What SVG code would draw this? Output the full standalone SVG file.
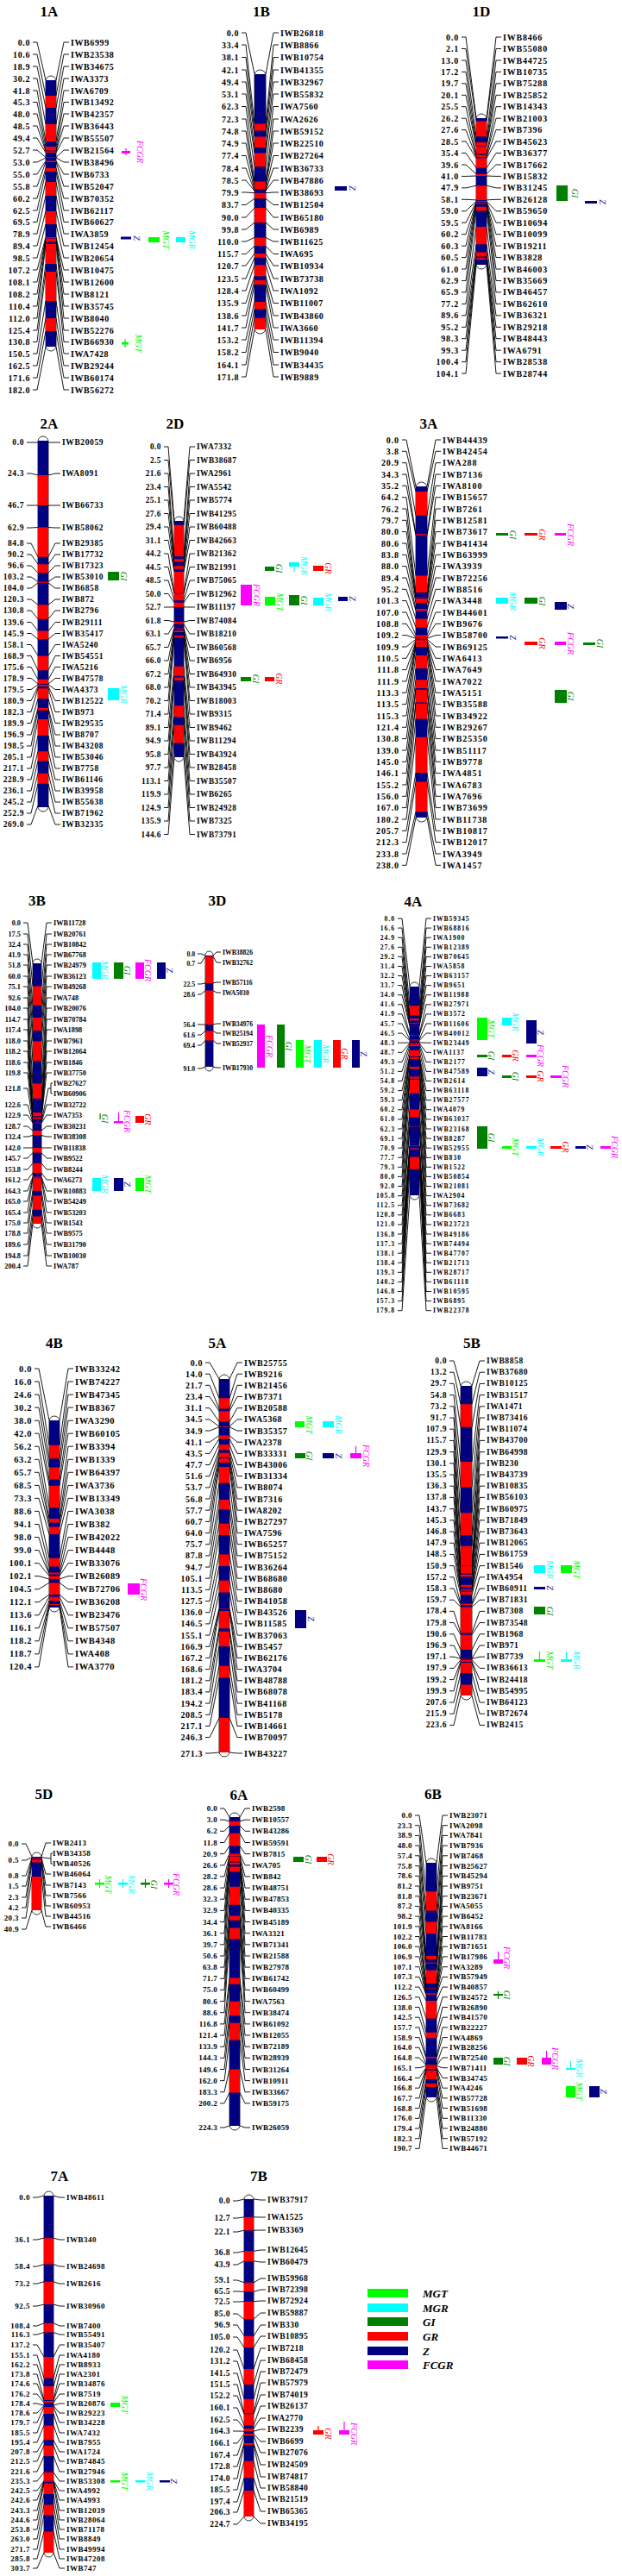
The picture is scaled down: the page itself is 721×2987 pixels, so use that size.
<svg xmlns="http://www.w3.org/2000/svg" width="721" height="2987" viewBox="0 0 721 2987">
<style>
text{font-family:"Liberation Serif","Times New Roman",serif;font-weight:bold;fill:#000;dominant-baseline:central}
.n{text-anchor:end}
.t{font-size:17px;text-anchor:middle;letter-spacing:0}
.q{font-style:italic;font-weight:normal;font-size:10px;text-anchor:middle;letter-spacing:0}
.cap{fill:#fff;stroke:#000;stroke-width:0.8}
.nv{fill:#000080}
.rd{fill:#f00}
.MGT{fill:#0f0}.MGR{fill:#0ff}.GI{fill:#008000}.GR{fill:#f00}.Z{fill:#000080}.FCGR{fill:#f0f}
.lg{font-size:13px;font-style:italic;letter-spacing:0}
</style>
<rect width="721" height="2987" fill="#fff"/>
<g id="connectors" fill="none" stroke="#000" stroke-width="0.9">
<path id="c1A" d="M38 49h5L53 93M38 63h5L53 111M38 77h5L53 125M38 91h5L53 144M38 105h5L53 164M38 118.5h5L53 170M38 132h5L53 174.5M38 146h5L53 175.5M38 160h5L53 177M38 174h5L53 182.5M38 188h5L53 183M38 202h5L53 186.5M38 216h5L53 188M38 230h5L53 195M38 244h5L53 199M38 257.5h5L53 211M38 271h5L53 227M38 285h5L53 245M38 299h5L53 260M38 313h5L53 275M38 327h5L53 276.5M38 341h5L53 277M38 355h5L53 280.5M38 369h5L53 283M38 383h5L53 306M38 396.5h5L53 315M38 410h5L53 349M38 424h5L53 369M38 438h5L53 384M38 452h5L53 402M65 93L74 49h6M65 111L74 63h6M65 125L74 77h6M65 144L74 91h6M65 164L74 105h6M65 170L74 118.5h6M65 174.5L74 132h6M65 175.5L74 146h6M65 177L74 160h6M65 182.5L74 174h6M65 183L74 188h6M65 186.5L74 202h6M65 188L74 216h6M65 195L74 230h6M65 199L74 244h6M65 211L74 257.5h6M65 227L74 271h6M65 245L74 285h6M65 260L74 299h6M65 275L74 313h6M65 276.5L74 327h6M65 277L74 341h6M65 280.5L74 355h6M65 283L74 369h6M65 306L74 383h6M65 315L74 396.5h6M65 349L74 410h6M65 369L74 424h6M65 384L74 438h6M65 402L74 452h6"/>
<path id="c1B" d="M280 38h5L295 86M280 52h5L295 143.5M280 66.5h5L295 151.6M280 81h5L295 158.5M280 95h5L295 171M280 109h5L295 177.5M280 123.5h5L295 193.3M280 138h5L295 210.6M280 152h5L295 214.9M280 166h5L295 215M280 180.5h5L295 219.4M280 195h5L295 221.1M280 209h5L295 221.3M280 223h5L295 223.7M280 237.5h5L295 230.2M280 252h5L295 241.1M280 266h5L295 258M280 280h5L295 275.5M280 294.5h5L295 285.3M280 308h5L295 294M280 323h5L295 298.8M280 337h5L295 307.2M280 351.5h5L295 320.2M280 366h5L295 324.8M280 380h5L295 330.1M280 394h5L295 350M280 408.5h5L295 358.6M280 423h5L295 368.7M280 437h5L295 382M308 86L317 38h6M308 143.5L317 52h6M308 151.6L317 66.5h6M308 158.5L317 81h6M308 171L317 95h6M308 177.5L317 109h6M308 193.3L317 123.5h6M308 210.6L317 138h6M308 214.9L317 152h6M308 215L317 166h6M308 219.4L317 180.5h6M308 221.1L317 195h6M308 221.3L317 209h6M308 223.7L317 223h6M308 230.2L317 237.5h6M308 241.1L317 252h6M308 258L317 266h6M308 275.5L317 280h6M308 285.3L317 294.5h6M308 294L317 308h6M308 298.8L317 323h6M308 307.2L317 337h6M308 320.2L317 351.5h6M308 324.8L317 366h6M308 330.1L317 380h6M308 350L317 394h6M308 358.6L317 408.5h6M308 368.7L317 423h6M308 382L317 437h6"/>
<path id="c1D" d="M535 43h5L552 137M535 56.5h5L552 140.4M535 70h5L552 158.2M535 83.4h5L552 165.1M535 96.8h5L552 169.2M535 110.3h5L552 169.8M535 123.7h5L552 178.6M535 137.2h5L552 179.8M535 150.6h5L552 182.1M535 164h5L552 183.5M535 177.5h5L552 194.8M535 191h5L552 201.7M535 204.4h5L552 204M535 217.9h5L552 215.2M535 231.3h5L552 231.9M535 244.8h5L552 233.3M535 258.2h5L552 234.2M535 271.7h5L552 235.3M535 285.1h5L552 235.5M535 298.6h5L552 235.8M535 312h5L552 236.6M535 325.5h5L552 239.7M535 338.9h5L552 244.6M535 352.4h5L552 263.1M535 365.8h5L552 283.3M535 379.3h5L552 292.5M535 392.7h5L552 297.5M535 406.2h5L552 299.2M535 419.6h5L552 301M535 433h5L552 307M564 137L575 43h6M564 140.4L575 56.5h6M564 158.2L575 70h6M564 165.1L575 83.4h6M564 169.2L575 96.8h6M564 169.8L575 110.3h6M564 178.6L575 123.7h6M564 179.8L575 137.2h6M564 182.1L575 150.6h6M564 183.5L575 164h6M564 194.8L575 177.5h6M564 201.7L575 191h6M564 204L575 204.4h6M564 215.2L575 217.9h6M564 231.9L575 231.3h6M564 233.3L575 244.8h6M564 234.2L575 258.2h6M564 235.3L575 271.7h6M564 235.5L575 285.1h6M564 235.8L575 298.6h6M564 236.6L575 312h6M564 239.7L575 325.5h6M564 244.6L575 338.9h6M564 263.1L575 352.4h6M564 283.3L575 365.8h6M564 292.5L575 379.3h6M564 297.5L575 392.7h6M564 299.2L575 406.2h6M564 301L575 419.6h6M564 307L575 433h6"/>
<path id="c2A" d="M31 513h5L44 513M31 549h5L44 551M31 586h5L44 586M31 612h5L44 611.5M31 630h5L44 645.7M31 643h5L44 654.2M31 656h5L44 664.2M31 669h5L44 674.5M31 682h5L44 675.8M31 695h5L44 701.3M31 708h5L44 717.7M31 721.5h5L44 731.5M31 734.5h5L44 741.3M31 747.5h5L44 760.4M31 760.5h5L44 777.3M31 773.5h5L44 787.8M31 786.5h5L44 793M31 799.5h5L44 793.9M31 812.5h5L44 796.1M31 825.5h5L44 798.3M31 838.5h5L44 810.2M31 852h5L44 821.1M31 865h5L44 823.7M31 878h5L44 834M31 891h5L44 852.8M31 904h5L44 871.2M31 917h5L44 882.5M31 930h5L44 896.7M31 943h5L44 908.8M31 956h5L44 934M56 513L64 513h6M56 551L64 549h6M56 586L64 586h6M56 611.5L64 612h6M56 645.7L64 630h6M56 654.2L64 643h6M56 664.2L64 656h6M56 674.5L64 669h6M56 675.8L64 682h6M56 701.3L64 695h6M56 717.7L64 708h6M56 731.5L64 721.5h6M56 741.3L64 734.5h6M56 760.4L64 747.5h6M56 777.3L64 760.5h6M56 787.8L64 773.5h6M56 793L64 786.5h6M56 793.9L64 799.5h6M56 796.1L64 812.5h6M56 798.3L64 825.5h6M56 810.2L64 838.5h6M56 821.1L64 852h6M56 823.7L64 865h6M56 834L64 878h6M56 852.8L64 891h6M56 871.2L64 904h6M56 882.5L64 917h6M56 896.7L64 930h6M56 908.8L64 943h6M56 934L64 956h6"/>
<path id="c2D" d="M190 518h5L202 604M190 533.5h5L202 608.7M190 549h5L202 644.9M190 564.5h5L202 648.3M190 580h5L202 651.6M190 595.5h5L202 656.3M190 611h5L202 659.7M190 626.5h5L202 662.9M190 642h5L202 687.8M190 657.5h5L202 688.3M190 673h5L202 695.9M190 688.5h5L202 698.8M190 704h5L202 703.9M190 719.5h5L202 721.1M190 735h5L202 723.6M190 750.5h5L202 728.5M190 766h5L202 729.1M190 781.5h5L202 731.3M190 797h5L202 732.9M190 812.5h5L202 737M190 828h5L202 739.3M190 843.5h5L202 772.8M190 859h5L202 783.8M190 874.5h5L202 785.5M190 890h5L202 789.1M190 905.5h5L202 818.3M190 921h5L202 831.2M190 936.5h5L202 840.7M190 952h5L202 861.5M190 967.5h5L202 878M213 604L220 518h6M213 608.7L220 533.5h6M213 644.9L220 549h6M213 648.3L220 564.5h6M213 651.6L220 580h6M213 656.3L220 595.5h6M213 659.7L220 611h6M213 662.9L220 626.5h6M213 687.8L220 642h6M213 688.3L220 657.5h6M213 695.9L220 673h6M213 698.8L220 688.5h6M213 703.9L220 704h6M213 721.1L220 719.5h6M213 723.6L220 735h6M213 728.5L220 750.5h6M213 729.1L220 766h6M213 731.3L220 781.5h6M213 732.9L220 797h6M213 737L220 812.5h6M213 739.3L220 828h6M213 772.8L220 843.5h6M213 783.8L220 859h6M213 785.5L220 874.5h6M213 789.1L220 890h6M213 818.3L220 905.5h6M213 831.2L220 921h6M213 840.7L220 936.5h6M213 861.5L220 952h6M213 878L220 967.5h6"/>
<path id="c3A" d="M466 510h5L482 564M466 523.3h5L482 570.1M466 536.7h5L482 597.7M466 550h5L482 619.3M466 563.3h5L482 620.8M466 576.7h5L482 667.6M466 590h5L482 686.9M466 603.3h5L482 692.6M466 616.6h5L482 693.1M466 630h5L482 694M466 643.3h5L482 699.2M466 656.6h5L482 706M466 670h5L482 708.2M466 683.3h5L482 717.6M466 696.6h5L482 727.4M466 710h5L482 736.6M466 723.3h5L482 739.5M466 736.6h5L482 740.2M466 750h5L482 741.3M466 763.3h5L482 742.3M466 776.6h5L482 744.4M466 790h5L482 744.5M466 803.3h5L482 746.8M466 816.6h5L482 747.1M466 830h5L482 750M466 843.3h5L482 759.9M466 856.6h5L482 775M466 870h5L482 788.3M466 883.3h5L482 798M466 896.6h5L482 799.7M466 910h5L482 814.4M466 923.3h5L482 815.7M466 936.6h5L482 833.4M466 950h5L482 854.7M466 963.3h5L482 895.9M466 976.6h5L482 906.5M466 990h5L482 941.2M466 1003.3h5L482 948M495 564L505 510h6M495 570.1L505 523.3h6M495 597.7L505 536.7h6M495 619.3L505 550h6M495 620.8L505 563.3h6M495 667.6L505 576.7h6M495 686.9L505 590h6M495 692.6L505 603.3h6M495 693.1L505 616.6h6M495 694L505 630h6M495 699.2L505 643.3h6M495 706L505 656.6h6M495 708.2L505 670h6M495 717.6L505 683.3h6M495 727.4L505 696.6h6M495 736.6L505 710h6M495 739.5L505 723.3h6M495 740.2L505 736.6h6M495 741.3L505 750h6M495 742.3L505 763.3h6M495 744.4L505 776.6h6M495 744.5L505 790h6M495 746.8L505 803.3h6M495 747.1L505 816.6h6M495 750L505 830h6M495 759.9L505 843.3h6M495 775L505 856.6h6M495 788.3L505 870h6M495 798L505 883.3h6M495 799.7L505 896.6h6M495 814.4L505 910h6M495 815.7L505 923.3h6M495 833.4L505 936.6h6M495 854.7L505 950h6M495 895.9L505 963.3h6M495 906.5L505 976.6h6M495 941.2L505 990h6M495 948L505 1003.3h6"/>
<path id="c3B" d="M27 1070h5L38 1117M27 1083h5L38 1143.4M27 1095h5L38 1165.8M27 1107h5L38 1180.1M27 1119h5L38 1195.1M27 1132h5L38 1207.4M27 1144h5L38 1230.2M27 1157h5L38 1256.5M27 1169h5L38 1273.7M27 1182h5L38 1289.9M27 1194h5L38 1293.9M27 1207h5L38 1294.8M27 1219h5L38 1295.1M27 1232h5L38 1295.7M27 1244h5L38 1297.5M27 1262h5L38 1300.6M27 1281h5L38 1301.8M27 1293h5L38 1302.2M27 1306h5L38 1311M27 1318h5L38 1316.5M27 1331h5L38 1331M27 1343h5L38 1336.6M27 1356h5L38 1348.8M27 1368h5L38 1359.9M27 1381h5L38 1364.6M27 1393h5L38 1365.7M27 1406h5L38 1366.3M27 1418h5L38 1380.7M27 1430h5L38 1386.5M27 1443h5L38 1402.7M27 1456h5L38 1410.6M27 1468h5L38 1419M48 1117L54 1070h6M48 1143.4L54 1083h6M48 1165.8L54 1095h6M48 1180.1L54 1107h6M48 1195.1L54 1119h6M48 1207.4L54 1132h6M48 1230.2L54 1144h6M48 1256.5L54 1157h6M48 1273.7L54 1169h6M48 1289.9L54 1182h6M48 1293.9L54 1194h6M48 1294.8L54 1207h6M48 1295.1L54 1219h6M48 1295.7L54 1232h6M48 1297.5L54 1244h6M48 1300.6L56 1262h3M59 1256v12M59 1256h2M59 1268h2M48 1301.8L54 1281h6M48 1302.2L54 1293h6M48 1311L54 1306h6M48 1316.5L54 1318h6M48 1331L54 1331h6M48 1336.6L54 1343h6M48 1348.8L54 1356h6M48 1359.9L54 1368h6M48 1364.6L54 1381h6M48 1365.7L54 1393h6M48 1366.3L54 1406h6M48 1380.7L54 1418h6M48 1386.5L54 1430h6M48 1402.7L54 1443h6M48 1410.6L54 1456h6M48 1419L54 1468h6"/>
<path id="c3D" d="M229 1106h4L238 1108M229 1117h4L238 1109M229 1141h4L238 1139.9M229 1153h4L238 1148.6M229 1188h4L238 1188M229 1200h4L238 1195.3M229 1212h4L238 1206.4M229 1239h4L238 1237M247 1108L251 1104h5M247 1109L251 1116h5M247 1139.9L251 1139h5M247 1148.6L251 1151h5M247 1188L251 1187h5M247 1195.3L251 1198h5M247 1206.4L251 1210h5M247 1237L251 1238h5"/>
<path id="c4A" d="M461 1065h5L475 1144M461 1076.1h5L475 1166.3M461 1087.2h5L475 1177.5M461 1098.3h5L475 1181.1M461 1109.4h5L475 1183.3M461 1120.5h5L475 1186.3M461 1131.5h5L475 1187.3M461 1142.6h5L475 1189.4M461 1153.7h5L475 1189.8M461 1164.8h5L475 1200M461 1175.9h5L475 1200.4M461 1187h5L475 1205.5M461 1198.1h5L475 1206.6M461 1209.2h5L475 1209M461 1220.3h5L475 1209.6M461 1231.4h5L475 1210.4M461 1242.4h5L475 1212.9M461 1253.5h5L475 1217.8M461 1264.6h5L475 1223.7M461 1275.7h5L475 1223.8M461 1286.8h5L475 1225M461 1297.9h5L475 1226.1M461 1309h5L475 1227.9M461 1320.1h5L475 1237M461 1331.2h5L475 1239.4M461 1342.3h5L475 1248.6M461 1353.3h5L475 1250.7M461 1364.4h5L475 1251.7M461 1375.5h5L475 1267.8M461 1386.6h5L475 1286.4M461 1397.7h5L475 1295.4M461 1408.8h5L475 1306.6M461 1419.9h5L475 1306.9M461 1431h5L475 1328.1M461 1442.1h5L475 1328.8M461 1453.2h5L475 1329.9M461 1464.2h5L475 1330.3M461 1475.3h5L475 1331.5M461 1486.4h5L475 1332.7M461 1497.5h5L475 1341.6M461 1508.6h5L475 1355.7M461 1519.7h5L475 1386M486 1144L494 1065h6M486 1166.3L494 1076.1h6M486 1177.5L494 1087.2h6M486 1181.1L494 1098.3h6M486 1183.3L494 1109.4h6M486 1186.3L494 1120.5h6M486 1187.3L494 1131.5h6M486 1189.4L494 1142.6h6M486 1189.8L494 1153.7h6M486 1200L494 1164.8h6M486 1200.4L494 1175.9h6M486 1205.5L494 1187h6M486 1206.6L494 1198.1h6M486 1209L494 1209.2h6M486 1209.6L494 1220.3h6M486 1210.4L494 1231.4h6M486 1212.9L494 1242.4h6M486 1217.8L494 1253.5h6M486 1223.7L494 1264.6h6M486 1223.8L494 1275.7h6M486 1225L494 1286.8h6M486 1226.1L494 1297.9h6M486 1227.9L494 1309h6M486 1237L494 1320.1h6M486 1239.4L494 1331.2h6M486 1248.6L494 1342.3h6M486 1250.7L494 1353.3h6M486 1251.7L494 1364.4h6M486 1267.8L494 1375.5h6M486 1286.4L494 1386.6h6M486 1295.4L494 1397.7h6M486 1306.6L494 1408.8h6M486 1306.9L494 1419.9h6M486 1328.1L494 1431h6M486 1328.8L494 1442.1h6M486 1329.9L494 1453.2h6M486 1330.3L494 1464.2h6M486 1331.5L494 1475.3h6M486 1332.7L494 1486.4h6M486 1341.6L494 1497.5h6M486 1355.7L494 1508.6h6M486 1386L494 1519.7h6"/>
<path id="c4B" d="M40 1587h5L57 1647M40 1602h5L57 1675.8M40 1617.1h5L57 1691.3M40 1632.1h5L57 1701.4M40 1647.2h5L57 1715.5M40 1662.2h5L57 1722.7M40 1677.2h5L57 1748.3M40 1692.3h5L57 1760.9M40 1707.3h5L57 1765.4M40 1722.4h5L57 1770.4M40 1737.4h5L57 1779.1M40 1752.4h5L57 1806.7M40 1767.5h5L57 1816.6M40 1782.5h5L57 1823.6M40 1797.6h5L57 1825.4M40 1812.6h5L57 1827.4M40 1827.6h5L57 1831M40 1842.7h5L57 1835.3M40 1857.7h5L57 1849M40 1872.8h5L57 1851.7M40 1887.8h5L57 1856.2M40 1902.8h5L57 1860M40 1917.9h5L57 1860.9M40 1932.9h5L57 1864M69 1647L79 1587h6M69 1675.8L79 1602h6M69 1691.3L79 1617.1h6M69 1701.4L79 1632.1h6M69 1715.5L79 1647.2h6M69 1722.7L79 1662.2h6M69 1748.3L79 1677.2h6M69 1760.9L79 1692.3h6M69 1765.4L79 1707.3h6M69 1770.4L79 1722.4h6M69 1779.1L79 1737.4h6M69 1806.7L79 1752.4h6M69 1816.6L79 1767.5h6M69 1823.6L79 1782.5h6M69 1825.4L79 1797.6h6M69 1827.4L79 1812.6h6M69 1831L79 1827.6h6M69 1835.3L79 1842.7h6M69 1849L79 1857.7h6M69 1851.7L79 1872.8h6M69 1856.2L79 1887.8h6M69 1860L79 1902.8h6M69 1860.9L79 1917.9h6M69 1864L79 1932.9h6"/>
<path id="c5A" d="M238 1580h5L254 1599M238 1593.2h5L254 1621.3M238 1606.3h5L254 1633.6M238 1619.5h5L254 1636.3M238 1632.7h5L254 1648.6M238 1645.9h5L254 1654.1M238 1659h5L254 1654.7M238 1672.2h5L254 1664.6M238 1685.4h5L254 1668.4M238 1698.5h5L254 1675.1M238 1711.7h5L254 1681.4M238 1724.9h5L254 1684.7M238 1738h5L254 1689.7M238 1751.2h5L254 1691.1M238 1764.4h5L254 1695.9M238 1777.6h5L254 1701.1M238 1790.7h5L254 1719.8M238 1803.9h5L254 1739.1M238 1817.1h5L254 1750.2M238 1830.2h5L254 1766.7M238 1843.4h5L254 1780.1M238 1856.6h5L254 1802.5M238 1869.7h5L254 1816.1M238 1882.9h5L254 1832.8M238 1896.1h5L254 1846.5M238 1909.3h5L254 1865.4M238 1922.4h5L254 1865.9M238 1935.6h5L254 1868.1M238 1948.8h5L254 1888.2M238 1961.9h5L254 1891.7M238 1975.1h5L254 1908.9M238 1988.3h5L254 1931.8M238 2001.4h5L254 1945.5M238 2014.6h5L254 1992.1M238 2033h5L254 2032M266 1599L275 1580h6M266 1621.3L275 1593.2h6M266 1633.6L275 1606.3h6M266 1636.3L275 1619.5h6M266 1648.6L275 1632.7h6M266 1654.1L275 1645.9h6M266 1654.7L275 1659h6M266 1664.6L275 1672.2h6M266 1668.4L275 1685.4h6M266 1675.1L275 1698.5h6M266 1681.4L275 1711.7h6M266 1684.7L275 1724.9h6M266 1689.7L275 1738h6M266 1691.1L275 1751.2h6M266 1695.9L275 1764.4h6M266 1701.1L275 1777.6h6M266 1719.8L275 1790.7h6M266 1739.1L275 1803.9h6M266 1750.2L275 1817.1h6M266 1766.7L275 1830.2h6M266 1780.1L275 1843.4h6M266 1802.5L275 1856.6h6M266 1816.1L275 1869.7h6M266 1832.8L275 1882.9h6M266 1846.5L275 1896.1h6M266 1865.4L275 1909.3h6M266 1865.9L275 1922.4h6M266 1868.1L275 1935.6h6M266 1888.2L275 1948.8h6M266 1891.7L275 1961.9h6M266 1908.9L275 1975.1h6M266 1931.8L275 1988.3h6M266 1945.5L275 2001.4h6M266 1992.1L275 2014.6h6M266 2032L275 2033h6"/>
<path id="c5B" d="M521 1578h5L534 1607M521 1591.2h5L534 1628.2M521 1604.4h5L534 1654.7M521 1617.6h5L534 1695M521 1630.8h5L534 1724.5M521 1644h5L534 1754.2M521 1657.2h5L534 1780.2M521 1670.4h5L534 1792.8M521 1683.6h5L534 1815.6M521 1696.8h5L534 1815.9M521 1710h5L534 1824.5M521 1723.2h5L534 1825.8M521 1736.4h5L534 1828.2M521 1749.6h5L534 1837.7M521 1762.8h5L534 1840.3M521 1776h5L534 1842.7M521 1789.2h5L534 1844.5M521 1802.4h5L534 1845.4M521 1815.6h5L534 1849.3M521 1828.8h5L534 1859.4M521 1842h5L534 1861.1M521 1855.2h5L534 1863.4M521 1868.4h5L534 1893.4M521 1881.6h5L534 1895.7M521 1894.8h5L534 1913M521 1908h5L534 1923.1M521 1921.2h5L534 1923.4M521 1934.4h5L534 1924.7M521 1947.6h5L534 1926.8M521 1960.8h5L534 1927.9M521 1974h5L534 1940.3M521 1987.2h5L534 1953.6M521 2000.4h5L534 1966M547 1607L556 1578h6M547 1628.2L556 1591.2h6M547 1654.7L556 1604.4h6M547 1695L556 1617.6h6M547 1724.5L556 1630.8h6M547 1754.2L556 1644h6M547 1780.2L556 1657.2h6M547 1792.8L556 1670.4h6M547 1815.6L556 1683.6h6M547 1815.9L556 1696.8h6M547 1824.5L556 1710h6M547 1825.8L556 1723.2h6M547 1828.2L556 1736.4h6M547 1837.7L556 1749.6h6M547 1840.3L556 1762.8h6M547 1842.7L556 1776h6M547 1844.5L556 1789.2h6M547 1845.4L556 1802.4h6M547 1849.3L556 1815.6h6M547 1859.4L556 1828.8h6M547 1861.1L556 1842h6M547 1863.4L556 1855.2h6M547 1893.4L556 1868.4h6M547 1895.7L556 1881.6h6M547 1913L556 1894.8h6M547 1923.1L556 1908h6M547 1923.4L556 1921.2h6M547 1924.7L556 1934.4h6M547 1926.8L556 1947.6h6M547 1927.9L556 1960.8h6M547 1940.3L556 1974h6M547 1953.6L556 1987.2h6M547 1966L556 2000.4h6"/>
<path id="c5D" d="M25 2138h5L37 2153M25 2157h5L37 2153.8M25 2175h5L37 2154.2M25 2187h5L37 2155.3M25 2200h5L37 2156.5M25 2212h5L37 2159.4M25 2224h5L37 2176M25 2237h5L37 2215M48 2153L53 2137h6M48 2153.8L59 2155M59 2149v12M59 2149h2M59 2161h2M48 2154.2L53 2173h6M48 2155.3L53 2186h6M48 2156.5L53 2198h6M48 2159.4L53 2210h6M48 2176L53 2222h6M48 2215L53 2234h6"/>
<path id="c6A" d="M255 2097h5L266 2107M255 2110.2h5L266 2111.8M255 2123.3h5L266 2116.9M255 2136.5h5L266 2125.8M255 2149.6h5L266 2140.4M255 2162.8h5L266 2149.5M255 2175.9h5L266 2152M255 2189.1h5L266 2152.6M255 2202.2h5L266 2158.6M255 2215.4h5L266 2159.5M255 2228.5h5L266 2161.9M255 2241.7h5L266 2164.6M255 2254.8h5L266 2170.4M255 2268h5L266 2187.8M255 2281.1h5L266 2208.8M255 2294.3h5L266 2221.4M255 2307.4h5L266 2226.7M255 2320.6h5L266 2235.6M255 2333.7h5L266 2248.4M255 2346.9h5L266 2293.4M255 2360h5L266 2300.8M255 2373.2h5L266 2320.7M255 2386.3h5L266 2337.3M255 2399.5h5L266 2345.8M255 2412.6h5L266 2365.6M255 2425.8h5L266 2399.6M255 2438.9h5L266 2426.5M255 2467h5L266 2465M278 2107L284 2097h6M278 2111.8L284 2110.2h6M278 2116.9L284 2123.3h6M278 2125.8L284 2136.5h6M278 2140.4L284 2149.6h6M278 2149.5L284 2162.8h6M278 2152L284 2175.9h6M278 2152.6L284 2189.1h6M278 2158.6L284 2202.2h6M278 2159.5L284 2215.4h6M278 2161.9L284 2228.5h6M278 2164.6L284 2241.7h6M278 2170.4L284 2254.8h6M278 2187.8L284 2268h6M278 2208.8L284 2281.1h6M278 2221.4L284 2294.3h6M278 2226.7L284 2307.4h6M278 2235.6L284 2320.6h6M278 2248.4L284 2333.7h6M278 2293.4L284 2346.9h6M278 2300.8L284 2360h6M278 2320.7L284 2373.2h6M278 2337.3L284 2386.3h6M278 2345.8L284 2399.5h6M278 2365.6L284 2412.6h6M278 2399.6L284 2425.8h6M278 2426.5L284 2438.9h6M278 2465L284 2467h6"/>
<path id="c6B" d="M481 2105h5L494 2160M481 2116.7h5L494 2193.2M481 2128.4h5L494 2215.5M481 2140.1h5L494 2228.5M481 2151.8h5L494 2241.9M481 2163.6h5L494 2268.1M481 2175.3h5L494 2272.1M481 2187h5L494 2275.8M481 2198.7h5L494 2276.7M481 2210.4h5L494 2284.4M481 2222.1h5L494 2300.1M481 2233.8h5L494 2305.3M481 2245.5h5L494 2305.8M481 2257.2h5L494 2311.2M481 2268.9h5L494 2312.5M481 2280.7h5L494 2312.8M481 2292.4h5L494 2313M481 2304.1h5L494 2320M481 2315.8h5L494 2340.4M481 2327.5h5L494 2356.8M481 2339.2h5L494 2363.2M481 2350.9h5L494 2384.9M481 2362.6h5L494 2386.6M481 2374.3h5L494 2393.9M481 2386h5L494 2395M481 2397.7h5L494 2395.5M481 2409.5h5L494 2397.3M481 2421.2h5L494 2397.9M481 2432.9h5L494 2399.2M481 2444.6h5L494 2400.8M481 2456.3h5L494 2411M481 2468h5L494 2415.9M481 2479.7h5L494 2420M481 2491.4h5L494 2432M506 2160L513 2105h6M506 2193.2L513 2116.7h6M506 2215.5L513 2128.4h6M506 2228.5L513 2140.1h6M506 2241.9L513 2151.8h6M506 2268.1L513 2163.6h6M506 2272.1L513 2175.3h6M506 2275.8L513 2187h6M506 2276.7L513 2198.7h6M506 2284.4L513 2210.4h6M506 2300.1L513 2222.1h6M506 2305.3L513 2233.8h6M506 2305.8L513 2245.5h6M506 2311.2L513 2257.2h6M506 2312.5L513 2268.9h6M506 2312.8L513 2280.7h6M506 2313L513 2292.4h6M506 2320L513 2304.1h6M506 2340.4L513 2315.8h6M506 2356.8L513 2327.5h6M506 2363.2L513 2339.2h6M506 2384.9L513 2350.9h6M506 2386.6L513 2362.6h6M506 2393.9L513 2374.3h6M506 2395L513 2386h6M506 2395.5L513 2397.7h6M506 2397.3L513 2409.5h6M506 2397.9L513 2421.2h6M506 2399.2L513 2432.9h6M506 2400.8L513 2444.6h6M506 2411L513 2456.3h6M506 2415.9L513 2468h6M506 2420L513 2479.7h6M506 2432L513 2491.4h6"/>
<path id="c7A" d="M38 2548h5L51 2546M38 2597h5L51 2595.2M38 2628h5L51 2625.6M38 2648h5L51 2645.8M38 2674h5L51 2672.1M38 2697h5L51 2693.8M38 2707h5L51 2704.5M38 2719h5L51 2733M38 2731h5L51 2757.4M38 2742h5L51 2767.1M38 2753h5L51 2782.9M38 2764h5L51 2784M38 2776h5L51 2786.2M38 2787h5L51 2789.2M38 2798h5L51 2789.5M38 2809h5L51 2791M38 2821h5L51 2798.9M38 2832h5L51 2812.4M38 2843h5L51 2829.3M38 2854h5L51 2835.7M38 2866h5L51 2848.1M38 2877h5L51 2866.8M38 2888h5L51 2876.6M38 2899h5L51 2876.7M38 2911h5L51 2877.7M38 2922h5L51 2879.4M38 2933h5L51 2892M38 2944h5L51 2904.5M38 2956h5L51 2916.4M38 2967h5L51 2935.6M38 2978h5L51 2960M62 2546L69 2548h6M62 2595.2L69 2597h6M62 2625.6L69 2628h6M62 2645.8L69 2648h6M62 2672.1L69 2674h6M62 2693.8L69 2697h6M62 2704.5L69 2707h6M62 2733L69 2719h6M62 2757.4L69 2731h6M62 2767.1L69 2742h6M62 2782.9L69 2753h6M62 2784L69 2764h6M62 2786.2L69 2776h6M62 2789.2L69 2787h6M62 2789.5L69 2798h6M62 2791L69 2809h6M62 2798.9L69 2821h6M62 2812.4L69 2832h6M62 2829.3L69 2843h6M62 2835.7L69 2854h6M62 2848.1L69 2866h6M62 2866.8L69 2877h6M62 2876.6L69 2888h6M62 2876.7L69 2899h6M62 2877.7L69 2911h6M62 2879.4L69 2922h6M62 2892L69 2933h6M62 2904.5L69 2944h6M62 2916.4L69 2956h6M62 2935.6L69 2967h6M62 2960L69 2978h6"/>
<path id="c7B" d="M270 2552h5L283 2550M270 2572h5L283 2570.8M270 2588h5L283 2586.2M270 2612h5L283 2610.3M270 2626h5L283 2621.9M270 2644h5L283 2646.8M270 2657h5L283 2657.3M270 2669h5L283 2668.7M270 2683h5L283 2689.2M270 2696h5L283 2708.7M270 2710h5L283 2722M270 2725h5L283 2746.9M270 2738h5L283 2764.9M270 2752h5L283 2781.7M270 2765h5L283 2798.1M270 2778h5L283 2799.3M270 2792h5L283 2812.2M270 2806h5L283 2816.1M270 2819h5L283 2819.1M270 2833h5L283 2822M270 2847h5L283 2824.2M270 2860h5L283 2833M270 2874h5L283 2835M270 2887h5L283 2853.8M270 2901h5L283 2873.3M270 2913h5L283 2887.9M270 2927h5L283 2918M294 2550L302 2551h6M294 2570.8L302 2571h6M294 2586.2L302 2586h6M294 2610.3L302 2609h6M294 2621.9L302 2623h6M294 2646.8L302 2642h6M294 2657.3L302 2655h6M294 2668.7L302 2668h6M294 2689.2L302 2682h6M294 2708.7L302 2696h6M294 2722L302 2709h6M294 2746.9L302 2723h6M294 2764.9L302 2737h6M294 2781.7L302 2750h6M294 2798.1L302 2763h6M294 2799.3L302 2777h6M294 2812.2L302 2790h6M294 2816.1L302 2804h6M294 2819.1L302 2817h6M294 2822L302 2831h6M294 2824.2L302 2844h6M294 2833L302 2858h6M294 2835L302 2872h6M294 2853.8L302 2885h6M294 2873.3L302 2898h6M294 2887.9L302 2912h6M294 2918L302 2926h6"/>
</g>

<g id="chr1A" style="font-size:10px;letter-spacing:0.6px">
<text class="t" x="57" y="13">1A</text>
<rect class="cap" x="53" y="88" width="12" height="319" rx="6"/>
<rect class="nv" x="53" y="93" width="12" height="309"/>
<path class="rd" d="M53 111h12V125h-12zM53 144h12V164h-12zM53 170h12V174.5h-12zM53 175.5h12V177h-12zM53 182.5h12V183h-12zM53 186.5h12V188h-12zM53 195h12V199h-12zM53 211h12V227h-12zM53 245h12V260h-12zM53 275h12V276.5h-12zM53 277h12V280.5h-12zM53 283h12V306h-12zM53 315h12V349h-12zM53 369h12V384h-12z"/>
<g class="n"><text x="35" y="49">0.0</text><text x="35" y="63">10.6</text><text x="35" y="77">18.9</text><text x="35" y="91">30.2</text><text x="35" y="105">41.8</text><text x="35" y="118.5">45.3</text><text x="35" y="132">48.0</text><text x="35" y="146">48.5</text><text x="35" y="160">49.4</text><text x="35" y="174">52.7</text><text x="35" y="188">53.0</text><text x="35" y="202">55.0</text><text x="35" y="216">55.8</text><text x="35" y="230">60.2</text><text x="35" y="244">62.5</text><text x="35" y="257.5">69.5</text><text x="35" y="271">78.9</text><text x="35" y="285">89.4</text><text x="35" y="299">98.5</text><text x="35" y="313">107.2</text><text x="35" y="327">108.1</text><text x="35" y="341">108.2</text><text x="35" y="355">110.4</text><text x="35" y="369">112.0</text><text x="35" y="383">125.4</text><text x="35" y="396.5">130.8</text><text x="35" y="410">150.5</text><text x="35" y="424">162.5</text><text x="35" y="438">171.6</text><text x="35" y="452">182.0</text></g>
<g><text x="82" y="49">IWB6999</text><text x="82" y="63">IWB23538</text><text x="82" y="77">IWB34675</text><text x="82" y="91">IWA3373</text><text x="82" y="105">IWA6709</text><text x="82" y="118.5">IWB13492</text><text x="82" y="132">IWB42357</text><text x="82" y="146">IWB36443</text><text x="82" y="160">IWB55507</text><text x="82" y="174">IWB21564</text><text x="82" y="188">IWB38496</text><text x="82" y="202">IWB6733</text><text x="82" y="216">IWB52047</text><text x="82" y="230">IWB70352</text><text x="82" y="244">IWB62117</text><text x="82" y="257.5">IWB60627</text><text x="82" y="271">IWA3859</text><text x="82" y="285">IWB12454</text><text x="82" y="299">IWB20654</text><text x="82" y="313">IWB10475</text><text x="82" y="327">IWB12600</text><text x="82" y="341">IWB8121</text><text x="82" y="355">IWB35745</text><text x="82" y="369">IWB8040</text><text x="82" y="383">IWB52276</text><text x="82" y="396.5">IWB66930</text><text x="82" y="410">IWA7428</text><text x="82" y="424">IWB29244</text><text x="82" y="438">IWB60174</text><text x="82" y="452">IWB56272</text></g>
<rect class="FCGR" x="141" y="175" width="10" height="3"/><rect class="FCGR" x="145.4" y="172" width="1.2" height="8"/><text class="q FCGR" transform="translate(162,176) rotate(90)">FCGR</text>
<rect class="Z" x="140" y="274.5" width="12" height="3"/><text class="q Z" transform="translate(158,276) rotate(90)">Z</text>
<rect class="MGT" x="172" y="275" width="13" height="6"/><text class="q MGT" transform="translate(192,278) rotate(90)">MGT</text>
<rect class="MGR" x="204" y="275" width="11" height="6"/><text class="q MGR" transform="translate(222,278) rotate(90)">MGR</text>
<rect class="MGT" x="141" y="396.5" width="8" height="3"/><rect class="MGT" x="144.4" y="393" width="1.2" height="10"/><text class="q MGT" transform="translate(160,398) rotate(90)">MGT</text>
</g>

<g id="chr1B" style="font-size:10px;letter-spacing:0.6px">
<text class="t" x="303" y="13">1B</text>
<rect class="cap" x="295" y="81" width="13" height="306" rx="6.5"/>
<rect class="nv" x="295" y="86" width="13" height="296"/>
<path class="rd" d="M295 143.5h13V151.6h-13zM295 158.5h13V171h-13zM295 177.5h13V193.3h-13zM295 210.6h13V214.9h-13zM295 215h13V219.4h-13zM295 221.1h13V221.3h-13zM295 223.7h13V230.2h-13zM295 241.1h13V258h-13zM295 275.5h13V285.3h-13zM295 294h13V298.8h-13zM295 307.2h13V320.2h-13zM295 324.8h13V330.1h-13zM295 350h13V358.6h-13zM295 368.7h13V382h-13z"/>
<g class="n"><text x="277" y="38">0.0</text><text x="277" y="52">33.4</text><text x="277" y="66.5">38.1</text><text x="277" y="81">42.1</text><text x="277" y="95">49.4</text><text x="277" y="109">53.1</text><text x="277" y="123.5">62.3</text><text x="277" y="138">72.3</text><text x="277" y="152">74.8</text><text x="277" y="166">74.9</text><text x="277" y="180.5">77.4</text><text x="277" y="195">78.4</text><text x="277" y="209">78.5</text><text x="277" y="223">79.9</text><text x="277" y="237.5">83.7</text><text x="277" y="252">90.0</text><text x="277" y="266">99.8</text><text x="277" y="280">110.0</text><text x="277" y="294.5">115.7</text><text x="277" y="308">120.7</text><text x="277" y="323">123.5</text><text x="277" y="337">128.4</text><text x="277" y="351.5">135.9</text><text x="277" y="366">138.6</text><text x="277" y="380">141.7</text><text x="277" y="394">153.2</text><text x="277" y="408.5">158.2</text><text x="277" y="423">164.1</text><text x="277" y="437">171.8</text></g>
<g><text x="325" y="38">IWB26818</text><text x="325" y="52">IWB8866</text><text x="325" y="66.5">IWB10754</text><text x="325" y="81">IWB41355</text><text x="325" y="95">IWB32967</text><text x="325" y="109">IWB55832</text><text x="325" y="123.5">IWA7560</text><text x="325" y="138">IWA2626</text><text x="325" y="152">IWB59152</text><text x="325" y="166">IWB22510</text><text x="325" y="180.5">IWB27264</text><text x="325" y="195">IWB36733</text><text x="325" y="209">IWB47886</text><text x="325" y="223">IWB38693</text><text x="325" y="237.5">IWB12504</text><text x="325" y="252">IWB65180</text><text x="325" y="266">IWB6989</text><text x="325" y="280">IWB11625</text><text x="325" y="294.5">IWA695</text><text x="325" y="308">IWB10934</text><text x="325" y="323">IWB73738</text><text x="325" y="337">IWA1092</text><text x="325" y="351.5">IWB11007</text><text x="325" y="366">IWB43860</text><text x="325" y="380">IWA3660</text><text x="325" y="394">IWB11394</text><text x="325" y="408.5">IWB9040</text><text x="325" y="423">IWB34435</text><text x="325" y="437">IWB9889</text></g>
<rect class="Z" x="388" y="216" width="14" height="5"/><text class="q Z" transform="translate(408,218) rotate(90)">Z</text>
</g>

<g id="chr1D" style="font-size:10px;letter-spacing:0.8px">
<text class="t" x="558" y="13">1D</text>
<rect class="cap" x="552" y="132" width="12" height="180" rx="6"/>
<rect class="nv" x="552" y="137" width="12" height="170"/>
<path class="rd" d="M552 140.4h12V158.2h-12zM552 165.1h12V169.2h-12zM552 169.8h12V178.6h-12zM552 179.8h12V182.1h-12zM552 183.5h12V194.8h-12zM552 201.7h12V204h-12zM552 215.2h12V231.9h-12zM552 233.3h12V234.2h-12zM552 235.3h12V235.5h-12zM552 235.8h12V236.6h-12zM552 239.7h12V244.6h-12zM552 263.1h12V283.3h-12zM552 292.5h12V297.5h-12zM552 299.2h12V301h-12z"/>
<g class="n"><text x="532" y="43">0.0</text><text x="532" y="56.5">2.1</text><text x="532" y="70">13.0</text><text x="532" y="83.4">17.2</text><text x="532" y="96.8">19.7</text><text x="532" y="110.3">20.1</text><text x="532" y="123.7">25.5</text><text x="532" y="137.2">26.2</text><text x="532" y="150.6">27.6</text><text x="532" y="164">28.5</text><text x="532" y="177.5">35.4</text><text x="532" y="191">39.6</text><text x="532" y="204.4">41.0</text><text x="532" y="217.9">47.9</text><text x="532" y="231.3">58.1</text><text x="532" y="244.8">59.0</text><text x="532" y="258.2">59.5</text><text x="532" y="271.7">60.2</text><text x="532" y="285.1">60.3</text><text x="532" y="298.6">60.5</text><text x="532" y="312">61.0</text><text x="532" y="325.5">62.9</text><text x="532" y="338.9">65.9</text><text x="532" y="352.4">77.2</text><text x="532" y="365.8">89.6</text><text x="532" y="379.3">95.2</text><text x="532" y="392.7">98.3</text><text x="532" y="406.2">99.3</text><text x="532" y="419.6">100.4</text><text x="532" y="433">104.1</text></g>
<g><text x="583" y="43">IWB8466</text><text x="583" y="56.5">IWB55080</text><text x="583" y="70">IWB44725</text><text x="583" y="83.4">IWB10735</text><text x="583" y="96.8">IWB75288</text><text x="583" y="110.3">IWB25852</text><text x="583" y="123.7">IWB14343</text><text x="583" y="137.2">IWB21003</text><text x="583" y="150.6">IWB7396</text><text x="583" y="164">IWB45623</text><text x="583" y="177.5">IWB36377</text><text x="583" y="191">IWB17662</text><text x="583" y="204.4">IWB15832</text><text x="583" y="217.9">IWB31245</text><text x="583" y="231.3">IWB26128</text><text x="583" y="244.8">IWB59650</text><text x="583" y="258.2">IWB10694</text><text x="583" y="271.7">IWB10099</text><text x="583" y="285.1">IWB19211</text><text x="583" y="298.6">IWB3828</text><text x="583" y="312">IWB46003</text><text x="583" y="325.5">IWB35669</text><text x="583" y="338.9">IWB46457</text><text x="583" y="352.4">IWB62610</text><text x="583" y="365.8">IWB36321</text><text x="583" y="379.3">IWB29218</text><text x="583" y="392.7">IWB48443</text><text x="583" y="406.2">IWA6791</text><text x="583" y="419.6">IWB28538</text><text x="583" y="433">IWB28744</text></g>
<rect class="GI" x="645" y="215" width="13" height="18"/><text class="q GI" transform="translate(666,224) rotate(90)">GI</text>
<rect class="Z" x="678" y="233" width="14" height="3"/><text class="q Z" transform="translate(698,234) rotate(90)">Z</text>
</g>

<g id="chr2A" style="font-size:9.5px;letter-spacing:0.6px">
<text class="t" x="57" y="491">2A</text>
<rect class="cap" x="44" y="506" width="12" height="435" rx="6"/>
<rect class="nv" x="44" y="511" width="12" height="425"/>
<path class="rd" d="M44 551h12V586h-12zM44 611.5h12V645.7h-12zM44 654.2h12V664.2h-12zM44 674.5h12V675.8h-12zM44 701.3h12V717.7h-12zM44 731.5h12V741.3h-12zM44 760.4h12V777.3h-12zM44 787.8h12V793h-12zM44 793.9h12V796.1h-12zM44 798.3h12V810.2h-12zM44 821.1h12V823.7h-12zM44 834h12V852.8h-12zM44 871.2h12V882.5h-12zM44 896.7h12V908.8h-12z"/>
<g class="n"><text x="28" y="513">0.0</text><text x="28" y="549">24.3</text><text x="28" y="586">46.7</text><text x="28" y="612">62.9</text><text x="28" y="630">84.8</text><text x="28" y="643">90.2</text><text x="28" y="656">96.6</text><text x="28" y="669">103.2</text><text x="28" y="682">104.0</text><text x="28" y="695">120.3</text><text x="28" y="708">130.8</text><text x="28" y="721.5">139.6</text><text x="28" y="734.5">145.9</text><text x="28" y="747.5">158.1</text><text x="28" y="760.5">168.9</text><text x="28" y="773.5">175.6</text><text x="28" y="786.5">178.9</text><text x="28" y="799.5">179.5</text><text x="28" y="812.5">180.9</text><text x="28" y="825.5">182.3</text><text x="28" y="838.5">189.9</text><text x="28" y="852">196.9</text><text x="28" y="865">198.5</text><text x="28" y="878">205.1</text><text x="28" y="891">217.1</text><text x="28" y="904">228.9</text><text x="28" y="917">236.1</text><text x="28" y="930">245.2</text><text x="28" y="943">252.9</text><text x="28" y="956">269.0</text></g>
<g><text x="72" y="513">IWB20059</text><text x="72" y="549">IWA8091</text><text x="72" y="586">IWB66733</text><text x="72" y="612">IWB58062</text><text x="72" y="630">IWB29385</text><text x="72" y="643">IWB17732</text><text x="72" y="656">IWB17323</text><text x="72" y="669">IWB53010</text><text x="72" y="682">IWB6858</text><text x="72" y="695">IWB872</text><text x="72" y="708">IWB2796</text><text x="72" y="721.5">IWB29111</text><text x="72" y="734.5">IWB35417</text><text x="72" y="747.5">IWA5240</text><text x="72" y="760.5">IWB54551</text><text x="72" y="773.5">IWA5216</text><text x="72" y="786.5">IWB47578</text><text x="72" y="799.5">IWA4373</text><text x="72" y="812.5">IWB12522</text><text x="72" y="825.5">IWB973</text><text x="72" y="838.5">IWB29535</text><text x="72" y="852">IWB8707</text><text x="72" y="865">IWB43208</text><text x="72" y="878">IWB53046</text><text x="72" y="891">IWB7758</text><text x="72" y="904">IWB61146</text><text x="72" y="917">IWB39958</text><text x="72" y="930">IWB55638</text><text x="72" y="943">IWB71962</text><text x="72" y="956">IWB32335</text></g>
<rect class="GI" x="125" y="663" width="13" height="10"/><text class="q GI" transform="translate(143,668) rotate(90)">GI</text>
<rect class="MGR" x="125" y="798" width="13" height="14"/><text class="q MGR" transform="translate(143,805) rotate(90)">MGR</text>
</g>

<g id="chr2D" style="font-size:9.3px;letter-spacing:0.5px">
<text class="t" x="203" y="491">2D</text>
<rect class="cap" x="202" y="599" width="11" height="284" rx="5.5"/>
<rect class="nv" x="202" y="604" width="11" height="274"/>
<path class="rd" d="M202 608.7h11V644.9h-11zM202 648.3h11V651.6h-11zM202 656.3h11V659.7h-11zM202 662.9h11V687.8h-11zM202 688.3h11V695.9h-11zM202 698.8h11V703.9h-11zM202 721.1h11V723.6h-11zM202 728.5h11V729.1h-11zM202 731.3h11V732.9h-11zM202 737h11V739.3h-11zM202 772.8h11V783.8h-11zM202 785.5h11V789.1h-11zM202 818.3h11V831.2h-11zM202 840.7h11V861.5h-11z"/>
<g class="n"><text x="187" y="518">0.0</text><text x="187" y="533.5">2.5</text><text x="187" y="549">21.6</text><text x="187" y="564.5">23.4</text><text x="187" y="580">25.1</text><text x="187" y="595.5">27.6</text><text x="187" y="611">29.4</text><text x="187" y="626.5">31.1</text><text x="187" y="642">44.2</text><text x="187" y="657.5">44.5</text><text x="187" y="673">48.5</text><text x="187" y="688.5">50.0</text><text x="187" y="704">52.7</text><text x="187" y="719.5">61.8</text><text x="187" y="735">63.1</text><text x="187" y="750.5">65.7</text><text x="187" y="766">66.0</text><text x="187" y="781.5">67.2</text><text x="187" y="797">68.0</text><text x="187" y="812.5">70.2</text><text x="187" y="828">71.4</text><text x="187" y="843.5">89.1</text><text x="187" y="859">94.9</text><text x="187" y="874.5">95.8</text><text x="187" y="890">97.7</text><text x="187" y="905.5">113.1</text><text x="187" y="921">119.9</text><text x="187" y="936.5">124.9</text><text x="187" y="952">135.9</text><text x="187" y="967.5">144.6</text></g>
<g><text x="228" y="518">IWA7332</text><text x="228" y="533.5">IWB38687</text><text x="228" y="549">IWA2961</text><text x="228" y="564.5">IWA5542</text><text x="228" y="580">IWB5774</text><text x="228" y="595.5">IWB41295</text><text x="228" y="611">IWB60488</text><text x="228" y="626.5">IWB42663</text><text x="228" y="642">IWB21362</text><text x="228" y="657.5">IWB21991</text><text x="228" y="673">IWB75065</text><text x="228" y="688.5">IWB12962</text><text x="228" y="704">IWB11197</text><text x="228" y="719.5">IWB74084</text><text x="228" y="735">IWB18210</text><text x="228" y="750.5">IWB60568</text><text x="228" y="766">IWB6956</text><text x="228" y="781.5">IWB64930</text><text x="228" y="797">IWB43945</text><text x="228" y="812.5">IWB18003</text><text x="228" y="828">IWB9315</text><text x="228" y="843.5">IWB9462</text><text x="228" y="859">IWB11294</text><text x="228" y="874.5">IWB43924</text><text x="228" y="890">IWB28458</text><text x="228" y="905.5">IWB35507</text><text x="228" y="921">IWB6265</text><text x="228" y="936.5">IWB24928</text><text x="228" y="952">IWB7325</text><text x="228" y="967.5">IWB73791</text></g>
<rect class="MGR" x="335" y="652" width="12" height="5"/><rect class="MGR" x="340.4" y="652" width="1.2" height="11"/><text class="q MGR" transform="translate(352,656) rotate(90)">MGR</text>
<rect class="GI" x="307" y="657" width="11" height="5"/><text class="q GI" transform="translate(323,659) rotate(90)">GI</text>
<rect class="FCGR" x="279" y="678" width="13" height="24"/><text class="q FCGR" transform="translate(297,690) rotate(90)">FCGR</text>
<rect class="MGT" x="307" y="692" width="12" height="10"/><text class="q MGT" transform="translate(324,698) rotate(90)">MGT</text>
<rect class="GI" x="335" y="690" width="12" height="12"/><text class="q GI" transform="translate(352,696) rotate(90)">GI</text>
<rect class="GI" x="279" y="785" width="12" height="5"/><text class="q GI" transform="translate(296,787) rotate(90)">GI</text>
<rect class="GR" x="307" y="785" width="11" height="5"/><text class="q GR" transform="translate(323,787) rotate(90)">GR</text>
<rect class="GR" x="363" y="656" width="12" height="6"/><text class="q GR" transform="translate(380,659) rotate(90)">GR</text>
<rect class="MGR" x="363" y="693" width="12" height="9"/><text class="q MGR" transform="translate(380,698) rotate(90)">MGR</text>
<rect class="Z" x="392" y="692" width="11" height="5"/><text class="q Z" transform="translate(408,694) rotate(90)">Z</text>
</g>

<g id="chr3A" style="font-size:10px;letter-spacing:0.9px">
<text class="t" x="497" y="491">3A</text>
<rect class="cap" x="482" y="559" width="13" height="394" rx="6.5"/>
<rect class="nv" x="482" y="564" width="13" height="384"/>
<path class="rd" d="M482 570.1h13V597.7h-13zM482 619.3h13V620.8h-13zM482 667.6h13V686.9h-13zM482 692.6h13V693.1h-13zM482 694h13V699.2h-13zM482 706h13V708.2h-13zM482 717.6h13V727.4h-13zM482 736.6h13V739.5h-13zM482 740.2h13V741.3h-13zM482 742.3h13V744.4h-13zM482 744.5h13V746.8h-13zM482 747.1h13V750h-13zM482 759.9h13V775h-13zM482 788.3h13V798h-13zM482 799.7h13V814.4h-13zM482 815.7h13V833.4h-13zM482 854.7h13V895.9h-13zM482 906.5h13V941.2h-13z"/>
<g class="n"><text x="463" y="510">0.0</text><text x="463" y="523.3">3.8</text><text x="463" y="536.7">20.9</text><text x="463" y="550">34.3</text><text x="463" y="563.3">35.2</text><text x="463" y="576.7">64.2</text><text x="463" y="590">76.2</text><text x="463" y="603.3">79.7</text><text x="463" y="616.6">80.0</text><text x="463" y="630">80.6</text><text x="463" y="643.3">83.8</text><text x="463" y="656.6">88.0</text><text x="463" y="670">89.4</text><text x="463" y="683.3">95.2</text><text x="463" y="696.6">101.3</text><text x="463" y="710">107.0</text><text x="463" y="723.3">108.8</text><text x="463" y="736.6">109.2</text><text x="463" y="750">109.9</text><text x="463" y="763.3">110.5</text><text x="463" y="776.6">111.8</text><text x="463" y="790">111.9</text><text x="463" y="803.3">113.3</text><text x="463" y="816.6">113.5</text><text x="463" y="830">115.3</text><text x="463" y="843.3">121.4</text><text x="463" y="856.6">130.8</text><text x="463" y="870">139.0</text><text x="463" y="883.3">145.0</text><text x="463" y="896.6">146.1</text><text x="463" y="910">155.2</text><text x="463" y="923.3">156.0</text><text x="463" y="936.6">167.0</text><text x="463" y="950">180.2</text><text x="463" y="963.3">205.7</text><text x="463" y="976.6">212.3</text><text x="463" y="990">233.8</text><text x="463" y="1003.3">238.0</text></g>
<g><text x="513" y="510">IWB44439</text><text x="513" y="523.3">IWB42454</text><text x="513" y="536.7">IWA288</text><text x="513" y="550">IWB7136</text><text x="513" y="563.3">IWA8100</text><text x="513" y="576.7">IWB15657</text><text x="513" y="590">IWB7261</text><text x="513" y="603.3">IWB12581</text><text x="513" y="616.6">IWB73617</text><text x="513" y="630">IWB41434</text><text x="513" y="643.3">IWB63999</text><text x="513" y="656.6">IWA3939</text><text x="513" y="670">IWB72256</text><text x="513" y="683.3">IWB8516</text><text x="513" y="696.6">IWA3448</text><text x="513" y="710">IWB44601</text><text x="513" y="723.3">IWB9676</text><text x="513" y="736.6">IWB58700</text><text x="513" y="750">IWB69125</text><text x="513" y="763.3">IWA6413</text><text x="513" y="776.6">IWA7649</text><text x="513" y="790">IWA7022</text><text x="513" y="803.3">IWA5151</text><text x="513" y="816.6">IWB35588</text><text x="513" y="830">IWB34922</text><text x="513" y="843.3">IWB29267</text><text x="513" y="856.6">IWB25350</text><text x="513" y="870">IWB51117</text><text x="513" y="883.3">IWB9778</text><text x="513" y="896.6">IWA4851</text><text x="513" y="910">IWA6783</text><text x="513" y="923.3">IWA7696</text><text x="513" y="936.6">IWB73699</text><text x="513" y="950">IWB11738</text><text x="513" y="963.3">IWB10817</text><text x="513" y="976.6">IWB12017</text><text x="513" y="990">IWA3949</text><text x="513" y="1003.3">IWA1457</text></g>
<rect class="GI" x="575" y="618" width="14" height="3"/><text class="q GI" transform="translate(594,620) rotate(90)">GI</text>
<rect class="GR" x="608" y="618" width="15" height="3"/><text class="q GR" transform="translate(628,620) rotate(90)">GR</text>
<rect class="FCGR" x="643" y="618" width="13" height="3"/><text class="q FCGR" transform="translate(661,620) rotate(90)">FCGR</text>
<rect class="MGR" x="575" y="693" width="14" height="7"/><text class="q MGR" transform="translate(594,697) rotate(90)">MGR</text>
<rect class="GI" x="608" y="693" width="15" height="7"/><text class="q GI" transform="translate(628,697) rotate(90)">GI</text>
<rect class="Z" x="643" y="698" width="14" height="9"/><text class="q Z" transform="translate(661,703) rotate(90)">Z</text>
<rect class="Z" x="575" y="738" width="14" height="2.5"/><text class="q Z" transform="translate(594,739) rotate(90)">Z</text>
<rect class="GR" x="608" y="744" width="15" height="4"/><text class="q GR" transform="translate(628,746) rotate(90)">GR</text>
<rect class="FCGR" x="643" y="744" width="13" height="4"/><text class="q FCGR" transform="translate(661,746) rotate(90)">FCGR</text>
<rect class="GI" x="676" y="745" width="14" height="3"/><text class="q GI" transform="translate(695,746) rotate(90)">GI</text>
<rect class="GI" x="643" y="800" width="14" height="15"/><text class="q GI" transform="translate(661,807) rotate(90)">GI</text>
</g>

<g id="chr3B" style="font-size:8.3px">
<text class="t" x="43" y="1044">3B</text>
<rect class="cap" x="38" y="1112" width="10" height="312" rx="5"/>
<rect class="nv" x="38" y="1117" width="10" height="302"/>
<path class="rd" d="M38 1143.4h10V1165.8h-10zM38 1180.1h10V1195.1h-10zM38 1207.4h10V1230.2h-10zM38 1256.5h10V1273.7h-10zM38 1289.9h10V1293.9h-10zM38 1294.8h10V1295.1h-10zM38 1295.7h10V1297.5h-10zM38 1301.8h10V1302.2h-10zM38 1311h10V1316.5h-10zM38 1331h10V1336.6h-10zM38 1348.8h10V1359.9h-10zM38 1364.6h10V1365.7h-10zM38 1366.3h10V1380.7h-10zM38 1386.5h10V1402.7h-10zM38 1410.6h10V1419h-10z"/>
<g class="n"><text x="24" y="1070">0.0</text><text x="24" y="1083">17.5</text><text x="24" y="1095">32.4</text><text x="24" y="1107">41.9</text><text x="24" y="1119">51.8</text><text x="24" y="1132">60.0</text><text x="24" y="1144">75.1</text><text x="24" y="1157">92.6</text><text x="24" y="1169">104.0</text><text x="24" y="1182">114.7</text><text x="24" y="1194">117.4</text><text x="24" y="1207">118.0</text><text x="24" y="1219">118.2</text><text x="24" y="1232">118.6</text><text x="24" y="1244">119.8</text><text x="24" y="1262">121.8</text><text x="24" y="1281">122.6</text><text x="24" y="1293">122.9</text><text x="24" y="1306">128.7</text><text x="24" y="1318">132.4</text><text x="24" y="1331">142.0</text><text x="24" y="1343">145.7</text><text x="24" y="1356">153.8</text><text x="24" y="1368">161.2</text><text x="24" y="1381">164.3</text><text x="24" y="1393">165.0</text><text x="24" y="1406">165.4</text><text x="24" y="1418">175.0</text><text x="24" y="1430">178.8</text><text x="24" y="1443">189.6</text><text x="24" y="1456">194.8</text><text x="24" y="1468">200.4</text></g>
<g><text x="62" y="1070">IWB11728</text><text x="62" y="1083">IWB20761</text><text x="62" y="1095">IWB10842</text><text x="62" y="1107">IWB67768</text><text x="62" y="1119">IWB24979</text><text x="62" y="1132">IWB36123</text><text x="62" y="1144">IWB49268</text><text x="62" y="1157">IWA748</text><text x="62" y="1169">IWB20076</text><text x="62" y="1182">IWB70784</text><text x="62" y="1194">IWA1898</text><text x="62" y="1207">IWB7963</text><text x="62" y="1219">IWB12064</text><text x="62" y="1232">IWB1846</text><text x="62" y="1244">IWB37750</text><text x="62" y="1256">IWB27627</text><text x="62" y="1268">IWB60906</text><text x="62" y="1281">IWB32722</text><text x="62" y="1293">IWA7353</text><text x="62" y="1306">IWB30231</text><text x="62" y="1318">IWB38308</text><text x="62" y="1331">IWB11838</text><text x="62" y="1343">IWB9522</text><text x="62" y="1356">IWB8244</text><text x="62" y="1368">IWA6273</text><text x="62" y="1381">IWB10883</text><text x="62" y="1393">IWB54249</text><text x="62" y="1406">IWB53203</text><text x="62" y="1418">IWB1543</text><text x="62" y="1430">IWB9575</text><text x="62" y="1443">IWB31790</text><text x="62" y="1456">IWB10030</text><text x="62" y="1468">IWA787</text></g>
<rect class="MGR" x="107" y="1116" width="10" height="19"/><text class="q MGR" transform="translate(121,1125) rotate(90)">MGR</text>
<rect class="GI" x="132" y="1116" width="11" height="19"/><text class="q GI" transform="translate(147,1125) rotate(90)">GI</text>
<rect class="FCGR" x="157" y="1116" width="10" height="19"/><text class="q FCGR" transform="translate(171,1125) rotate(90)">FCGR</text>
<rect class="Z" x="182" y="1116" width="10" height="19"/><text class="q Z" transform="translate(196,1125) rotate(90)">Z</text>
<rect class="GI" x="115.5" y="1291" width="1.2" height="7"/><text class="q GI" transform="translate(121,1297) rotate(90)">GI</text>
<rect class="FCGR" x="132" y="1300" width="11" height="2.5"/><rect class="FCGR" x="136.9" y="1290" width="1.2" height="11"/><text class="q FCGR" transform="translate(147,1300) rotate(90)">FCGR</text>
<rect class="GR" x="157" y="1294" width="10" height="8"/><text class="q GR" transform="translate(171,1298) rotate(90)">GR</text>
<rect class="MGR" x="107" y="1366" width="10" height="15"/><text class="q MGR" transform="translate(121,1373) rotate(90)">MGR</text>
<rect class="Z" x="132" y="1366" width="11" height="15"/><text class="q Z" transform="translate(147,1373) rotate(90)">Z</text>
<rect class="MGT" x="157" y="1366" width="10" height="15"/><text class="q MGT" transform="translate(171,1373) rotate(90)">MGT</text>
</g>

<g id="chr3D" style="font-size:7.7px">
<text class="t" x="252" y="1044">3D</text>
<rect class="cap" x="238" y="1103" width="9" height="139" rx="4.5"/>
<rect class="nv" x="238" y="1108" width="9" height="129"/>
<path class="rd" d="M238 1109h9V1139.9h-9zM238 1148.6h9V1188h-9zM238 1195.3h9V1206.4h-9z"/>
<g class="n"><text x="226" y="1106">0.0</text><text x="226" y="1117">0.7</text><text x="226" y="1141">22.5</text><text x="226" y="1153">28.6</text><text x="226" y="1188">56.4</text><text x="226" y="1200">61.6</text><text x="226" y="1212">69.4</text><text x="226" y="1239">91.0</text></g>
<g><text x="258" y="1104">IWB38826</text><text x="258" y="1116">IWB32762</text><text x="258" y="1139">IWB57116</text><text x="258" y="1151">IWA5030</text><text x="258" y="1187">IWB34976</text><text x="258" y="1198">IWB25194</text><text x="258" y="1210">IWB52937</text><text x="258" y="1238">IWB17930</text></g>
<rect class="FCGR" x="298" y="1188" width="9" height="50"/><text class="q FCGR" transform="translate(312,1213) rotate(90)">FCGR</text>
<rect class="GI" x="321" y="1188" width="9" height="50"/><text class="q GI" transform="translate(334,1213) rotate(90)">GI</text>
<rect class="MGT" x="343" y="1206" width="9" height="32"/><text class="q MGT" transform="translate(356,1222) rotate(90)">MGT</text>
<rect class="MGR" x="364" y="1206" width="9" height="32"/><text class="q MGR" transform="translate(377,1222) rotate(90)">MGR</text>
<rect class="GR" x="386" y="1206" width="9" height="32"/><text class="q GR" transform="translate(399,1222) rotate(90)">GR</text>
<rect class="Z" x="408" y="1206" width="9" height="32"/><text class="q Z" transform="translate(421,1222) rotate(90)">Z</text>
</g>

<g id="chr4A" style="font-size:7.6px;letter-spacing:1px">
<text class="t" x="479" y="1045">4A</text>
<rect class="cap" x="475" y="1139" width="11" height="252" rx="5.5"/>
<rect class="nv" x="475" y="1144" width="11" height="242"/>
<path class="rd" d="M475 1166.3h11V1177.5h-11zM475 1181.1h11V1183.3h-11zM475 1186.3h11V1187.3h-11zM475 1189.4h11V1189.8h-11zM475 1200h11V1200.4h-11zM475 1205.5h11V1206.6h-11zM475 1209h11V1209.6h-11zM475 1210.4h11V1212.9h-11zM475 1217.8h11V1223.7h-11zM475 1223.8h11V1225h-11zM475 1226.1h11V1227.9h-11zM475 1237h11V1239.4h-11zM475 1248.6h11V1250.7h-11zM475 1251.7h11V1267.8h-11zM475 1286.4h11V1295.4h-11zM475 1306.6h11V1306.9h-11zM475 1328.1h11V1328.8h-11zM475 1329.9h11V1330.3h-11zM475 1331.5h11V1332.7h-11zM475 1341.6h11V1355.7h-11z"/>
<g class="n"><text x="458" y="1065">0.0</text><text x="458" y="1076.1">16.6</text><text x="458" y="1087.2">24.9</text><text x="458" y="1098.3">27.6</text><text x="458" y="1109.4">29.2</text><text x="458" y="1120.5">31.4</text><text x="458" y="1131.5">32.2</text><text x="458" y="1142.6">33.7</text><text x="458" y="1153.7">34.0</text><text x="458" y="1164.8">41.6</text><text x="458" y="1175.9">41.9</text><text x="458" y="1187">45.7</text><text x="458" y="1198.1">46.5</text><text x="458" y="1209.2">48.3</text><text x="458" y="1220.3">48.7</text><text x="458" y="1231.4">49.3</text><text x="458" y="1242.4">51.2</text><text x="458" y="1253.5">54.8</text><text x="458" y="1264.6">59.2</text><text x="458" y="1275.7">59.3</text><text x="458" y="1286.8">60.2</text><text x="458" y="1297.9">61.0</text><text x="458" y="1309">62.3</text><text x="458" y="1320.1">69.1</text><text x="458" y="1331.2">70.9</text><text x="458" y="1342.3">77.7</text><text x="458" y="1353.3">79.3</text><text x="458" y="1364.4">80.0</text><text x="458" y="1375.5">92.0</text><text x="458" y="1386.6">105.8</text><text x="458" y="1397.7">112.5</text><text x="458" y="1408.8">120.8</text><text x="458" y="1419.9">121.0</text><text x="458" y="1431">136.8</text><text x="458" y="1442.1">137.3</text><text x="458" y="1453.2">138.1</text><text x="458" y="1464.2">138.4</text><text x="458" y="1475.3">139.3</text><text x="458" y="1486.4">140.2</text><text x="458" y="1497.5">146.8</text><text x="458" y="1508.6">157.3</text><text x="458" y="1519.7">179.8</text></g>
<g><text x="502" y="1065">IWB59345</text><text x="502" y="1076.1">IWB68816</text><text x="502" y="1087.2">IWA1900</text><text x="502" y="1098.3">IWB12389</text><text x="502" y="1109.4">IWB70645</text><text x="502" y="1120.5">IWA5858</text><text x="502" y="1131.5">IWB63157</text><text x="502" y="1142.6">IWB9651</text><text x="502" y="1153.7">IWB11988</text><text x="502" y="1164.8">IWB27971</text><text x="502" y="1175.9">IWB3572</text><text x="502" y="1187">IWB11606</text><text x="502" y="1198.1">IWB40012</text><text x="502" y="1209.2">IWB23449</text><text x="502" y="1220.3">IWA1137</text><text x="502" y="1231.4">IWB2177</text><text x="502" y="1242.4">IWB47589</text><text x="502" y="1253.5">IWB2614</text><text x="502" y="1264.6">IWB63118</text><text x="502" y="1275.7">IWB27577</text><text x="502" y="1286.8">IWA4079</text><text x="502" y="1297.9">IWB63037</text><text x="502" y="1309">IWB23168</text><text x="502" y="1320.1">IWB8287</text><text x="502" y="1331.2">IWB52955</text><text x="502" y="1342.3">IWB830</text><text x="502" y="1353.3">IWB1522</text><text x="502" y="1364.4">IWB50854</text><text x="502" y="1375.5">IWB21081</text><text x="502" y="1386.6">IWA2904</text><text x="502" y="1397.7">IWB73682</text><text x="502" y="1408.8">IWB6683</text><text x="502" y="1419.9">IWB23723</text><text x="502" y="1431">IWB49186</text><text x="502" y="1442.1">IWB74494</text><text x="502" y="1453.2">IWB47707</text><text x="502" y="1464.2">IWB21713</text><text x="502" y="1475.3">IWB28717</text><text x="502" y="1486.4">IWB61118</text><text x="502" y="1497.5">IWB10595</text><text x="502" y="1508.6">IWB6895</text><text x="502" y="1519.7">IWB22378</text></g>
<rect class="MGT" x="553" y="1180" width="12" height="26"/><text class="q MGT" transform="translate(569,1193) rotate(90)">MGT</text>
<rect class="MGR" x="582" y="1180" width="11" height="9"/><text class="q MGR" transform="translate(597,1185) rotate(90)">MGR</text>
<rect class="Z" x="610" y="1183" width="12" height="27"/><text class="q Z" transform="translate(626,1197) rotate(90)">Z</text>
<rect class="GI" x="553" y="1223" width="12" height="3"/><text class="q GI" transform="translate(569,1224) rotate(90)">GI</text>
<rect class="GR" x="582" y="1223" width="11" height="3"/><text class="q GR" transform="translate(597,1224) rotate(90)">GR</text>
<rect class="FCGR" x="610" y="1223" width="12" height="3"/><text class="q FCGR" transform="translate(626,1224) rotate(90)">FCGR</text>
<rect class="Z" x="553" y="1238" width="12" height="10"/><text class="q Z" transform="translate(569,1243) rotate(90)">Z</text>
<rect class="GI" x="582" y="1247" width="11" height="3"/><text class="q GI" transform="translate(597,1248) rotate(90)">GI</text>
<rect class="GR" x="610" y="1247" width="12" height="3"/><text class="q GR" transform="translate(626,1248) rotate(90)">GR</text>
<rect class="FCGR" x="638" y="1247" width="13" height="3"/><text class="q FCGR" transform="translate(655,1248) rotate(90)">FCGR</text>
<rect class="GI" x="553" y="1306" width="12" height="26"/><text class="q GI" transform="translate(569,1319) rotate(90)">GI</text>
<rect class="MGT" x="582" y="1329" width="11" height="3"/><text class="q MGT" transform="translate(597,1330) rotate(90)">MGT</text>
<rect class="MGR" x="610" y="1329" width="12" height="3"/><text class="q MGR" transform="translate(626,1330) rotate(90)">MGR</text>
<rect class="GR" x="638" y="1329" width="13" height="3"/><text class="q GR" transform="translate(655,1330) rotate(90)">GR</text>
<rect class="Z" x="667" y="1329" width="12" height="3"/><text class="q Z" transform="translate(683,1330) rotate(90)">Z</text>
<rect class="FCGR" x="696" y="1329" width="12" height="3"/><text class="q FCGR" transform="translate(712,1330) rotate(90)">FCGR</text>
</g>

<g id="chr4B" style="font-size:10.5px;letter-spacing:0.6px">
<text class="t" x="63" y="1557">4B</text>
<rect class="cap" x="57" y="1642" width="12" height="227" rx="6"/>
<rect class="nv" x="57" y="1647" width="12" height="217"/>
<path class="rd" d="M57 1675.8h12V1691.3h-12zM57 1701.4h12V1715.5h-12zM57 1722.7h12V1748.3h-12zM57 1760.9h12V1765.4h-12zM57 1770.4h12V1779.1h-12zM57 1806.7h12V1816.6h-12zM57 1823.6h12V1825.4h-12zM57 1827.4h12V1831h-12zM57 1835.3h12V1849h-12zM57 1851.7h12V1856.2h-12zM57 1860h12V1860.9h-12z"/>
<g class="n"><text x="37" y="1587">0.0</text><text x="37" y="1602">16.0</text><text x="37" y="1617.1">24.6</text><text x="37" y="1632.1">30.2</text><text x="37" y="1647.2">38.0</text><text x="37" y="1662.2">42.0</text><text x="37" y="1677.2">56.2</text><text x="37" y="1692.3">63.2</text><text x="37" y="1707.3">65.7</text><text x="37" y="1722.4">68.5</text><text x="37" y="1737.4">73.3</text><text x="37" y="1752.4">88.6</text><text x="37" y="1767.5">94.1</text><text x="37" y="1782.5">98.0</text><text x="37" y="1797.6">99.0</text><text x="37" y="1812.6">100.1</text><text x="37" y="1827.6">102.1</text><text x="37" y="1842.7">104.5</text><text x="37" y="1857.7">112.1</text><text x="37" y="1872.8">113.6</text><text x="37" y="1887.8">116.1</text><text x="37" y="1902.8">118.2</text><text x="37" y="1917.9">118.7</text><text x="37" y="1932.9">120.4</text></g>
<g><text x="87" y="1587">IWB33242</text><text x="87" y="1602">IWB74227</text><text x="87" y="1617.1">IWB47345</text><text x="87" y="1632.1">IWB8367</text><text x="87" y="1647.2">IWA3290</text><text x="87" y="1662.2">IWB60105</text><text x="87" y="1677.2">IWB3394</text><text x="87" y="1692.3">IWB1339</text><text x="87" y="1707.3">IWB64397</text><text x="87" y="1722.4">IWA3736</text><text x="87" y="1737.4">IWB13349</text><text x="87" y="1752.4">IWA3038</text><text x="87" y="1767.5">IWB382</text><text x="87" y="1782.5">IWB42022</text><text x="87" y="1797.6">IWB4448</text><text x="87" y="1812.6">IWB33076</text><text x="87" y="1827.6">IWB26089</text><text x="87" y="1842.7">IWB72706</text><text x="87" y="1857.7">IWB36208</text><text x="87" y="1872.8">IWB23476</text><text x="87" y="1887.8">IWB57507</text><text x="87" y="1902.8">IWB4348</text><text x="87" y="1917.9">IWA408</text><text x="87" y="1932.9">IWA3770</text></g>
<rect class="FCGR" x="148" y="1836" width="14" height="13"/><text class="q FCGR" transform="translate(166,1843) rotate(90)">FCGR</text>
</g>

<g id="chr5A" style="font-size:10px;letter-spacing:0.6px">
<text class="t" x="252" y="1557">5A</text>
<rect class="cap" x="254" y="1594" width="12" height="443" rx="6"/>
<rect class="nv" x="254" y="1599" width="12" height="433"/>
<path class="rd" d="M254 1621.3h12V1633.6h-12zM254 1636.3h12V1648.6h-12zM254 1654.1h12V1654.7h-12zM254 1664.6h12V1668.4h-12zM254 1675.1h12V1681.4h-12zM254 1684.7h12V1689.7h-12zM254 1691.1h12V1695.9h-12zM254 1701.1h12V1719.8h-12zM254 1739.1h12V1750.2h-12zM254 1766.7h12V1780.1h-12zM254 1802.5h12V1816.1h-12zM254 1832.8h12V1846.5h-12zM254 1865.4h12V1865.9h-12zM254 1868.1h12V1888.2h-12zM254 1891.7h12V1908.9h-12zM254 1931.8h12V1945.5h-12zM254 1992.1h12V2032h-12z"/>
<g class="n"><text x="235" y="1580">0.0</text><text x="235" y="1593.2">14.0</text><text x="235" y="1606.3">21.7</text><text x="235" y="1619.5">23.4</text><text x="235" y="1632.7">31.1</text><text x="235" y="1645.9">34.5</text><text x="235" y="1659">34.9</text><text x="235" y="1672.2">41.1</text><text x="235" y="1685.4">43.5</text><text x="235" y="1698.5">47.7</text><text x="235" y="1711.7">51.6</text><text x="235" y="1724.9">53.7</text><text x="235" y="1738">56.8</text><text x="235" y="1751.2">57.7</text><text x="235" y="1764.4">60.7</text><text x="235" y="1777.6">64.0</text><text x="235" y="1790.7">75.7</text><text x="235" y="1803.9">87.8</text><text x="235" y="1817.1">94.7</text><text x="235" y="1830.2">105.1</text><text x="235" y="1843.4">113.5</text><text x="235" y="1856.6">127.5</text><text x="235" y="1869.7">136.0</text><text x="235" y="1882.9">146.5</text><text x="235" y="1896.1">155.1</text><text x="235" y="1909.3">166.9</text><text x="235" y="1922.4">167.2</text><text x="235" y="1935.6">168.6</text><text x="235" y="1948.8">181.2</text><text x="235" y="1961.9">183.4</text><text x="235" y="1975.1">194.2</text><text x="235" y="1988.3">208.5</text><text x="235" y="2001.4">217.1</text><text x="235" y="2014.6">246.3</text><text x="235" y="2033">271.3</text></g>
<g><text x="283" y="1580">IWB25755</text><text x="283" y="1593.2">IWB9216</text><text x="283" y="1606.3">IWB21456</text><text x="283" y="1619.5">IWB7371</text><text x="283" y="1632.7">IWB20588</text><text x="283" y="1645.9">IWA5368</text><text x="283" y="1659">IWB35357</text><text x="283" y="1672.2">IWA2378</text><text x="283" y="1685.4">IWB33331</text><text x="283" y="1698.5">IWB43006</text><text x="283" y="1711.7">IWB31334</text><text x="283" y="1724.9">IWB8074</text><text x="283" y="1738">IWB7316</text><text x="283" y="1751.2">IWA8202</text><text x="283" y="1764.4">IWB27297</text><text x="283" y="1777.6">IWA7596</text><text x="283" y="1790.7">IWB65257</text><text x="283" y="1803.9">IWB75152</text><text x="283" y="1817.1">IWB36264</text><text x="283" y="1830.2">IWB68680</text><text x="283" y="1843.4">IWB8680</text><text x="283" y="1856.6">IWB41058</text><text x="283" y="1869.7">IWB43526</text><text x="283" y="1882.9">IWB11585</text><text x="283" y="1896.1">IWB37063</text><text x="283" y="1909.3">IWB5457</text><text x="283" y="1922.4">IWB62176</text><text x="283" y="1935.6">IWA3704</text><text x="283" y="1948.8">IWB48788</text><text x="283" y="1961.9">IWB68078</text><text x="283" y="1975.1">IWB41168</text><text x="283" y="1988.3">IWB5178</text><text x="283" y="2001.4">IWB14661</text><text x="283" y="2014.6">IWB70097</text><text x="283" y="2033">IWB43227</text></g>
<rect class="MGT" x="342" y="1648" width="11" height="7"/><text class="q MGT" transform="translate(358,1652) rotate(90)">MGT</text>
<rect class="MGR" x="374" y="1648" width="13" height="7"/><text class="q MGR" transform="translate(392,1652) rotate(90)">MGR</text>
<rect class="GI" x="342" y="1685" width="12" height="6"/><text class="q GI" transform="translate(358,1688) rotate(90)">GI</text>
<rect class="Z" x="374" y="1685" width="13" height="6"/><text class="q Z" transform="translate(392,1688) rotate(90)">Z</text>
<rect class="FCGR" x="406" y="1685" width="13" height="6"/><rect class="FCGR" x="411.9" y="1677" width="1.2" height="14"/><text class="q FCGR" transform="translate(424,1688) rotate(90)">FCGR</text>
<rect class="Z" x="342" y="1867" width="13" height="21"/><text class="q Z" transform="translate(360,1877) rotate(90)">Z</text>
</g>

<g id="chr5B" style="font-size:9.5px;letter-spacing:0.6px">
<text class="t" x="547" y="1557">5B</text>
<rect class="cap" x="534" y="1602" width="13" height="369" rx="6.5"/>
<rect class="nv" x="534" y="1607" width="13" height="359"/>
<path class="rd" d="M534 1628.2h13V1654.7h-13zM534 1695h13V1724.5h-13zM534 1754.2h13V1780.2h-13zM534 1792.8h13V1815.6h-13zM534 1815.9h13V1824.5h-13zM534 1825.8h13V1828.2h-13zM534 1837.7h13V1840.3h-13zM534 1842.7h13V1844.5h-13zM534 1845.4h13V1849.3h-13zM534 1859.4h13V1861.1h-13zM534 1863.4h13V1893.4h-13zM534 1895.7h13V1913h-13zM534 1923.1h13V1923.4h-13zM534 1924.7h13V1926.8h-13zM534 1927.9h13V1940.3h-13zM534 1953.6h13V1966h-13z"/>
<g class="n"><text x="518" y="1578">0.0</text><text x="518" y="1591.2">13.2</text><text x="518" y="1604.4">29.7</text><text x="518" y="1617.6">54.8</text><text x="518" y="1630.8">73.2</text><text x="518" y="1644">91.7</text><text x="518" y="1657.2">107.9</text><text x="518" y="1670.4">115.7</text><text x="518" y="1683.6">129.9</text><text x="518" y="1696.8">130.1</text><text x="518" y="1710">135.5</text><text x="518" y="1723.2">136.3</text><text x="518" y="1736.4">137.8</text><text x="518" y="1749.6">143.7</text><text x="518" y="1762.8">145.3</text><text x="518" y="1776">146.8</text><text x="518" y="1789.2">147.9</text><text x="518" y="1802.4">148.5</text><text x="518" y="1815.6">150.9</text><text x="518" y="1828.8">157.2</text><text x="518" y="1842">158.3</text><text x="518" y="1855.2">159.7</text><text x="518" y="1868.4">178.4</text><text x="518" y="1881.6">179.8</text><text x="518" y="1894.8">190.6</text><text x="518" y="1908">196.9</text><text x="518" y="1921.2">197.1</text><text x="518" y="1934.4">197.9</text><text x="518" y="1947.6">199.2</text><text x="518" y="1960.8">199.9</text><text x="518" y="1974">207.6</text><text x="518" y="1987.2">215.9</text><text x="518" y="2000.4">223.6</text></g>
<g><text x="564" y="1578">IWB8858</text><text x="564" y="1591.2">IWB37680</text><text x="564" y="1604.4">IWB10125</text><text x="564" y="1617.6">IWB31517</text><text x="564" y="1630.8">IWA1471</text><text x="564" y="1644">IWB73416</text><text x="564" y="1657.2">IWB11074</text><text x="564" y="1670.4">IWB43700</text><text x="564" y="1683.6">IWB64998</text><text x="564" y="1696.8">IWB230</text><text x="564" y="1710">IWB43739</text><text x="564" y="1723.2">IWB10835</text><text x="564" y="1736.4">IWB56103</text><text x="564" y="1749.6">IWB60975</text><text x="564" y="1762.8">IWB71849</text><text x="564" y="1776">IWB73643</text><text x="564" y="1789.2">IWB12065</text><text x="564" y="1802.4">IWB61759</text><text x="564" y="1815.6">IWB1546</text><text x="564" y="1828.8">IWA4954</text><text x="564" y="1842">IWB60911</text><text x="564" y="1855.2">IWB71831</text><text x="564" y="1868.4">IWB7308</text><text x="564" y="1881.6">IWB73548</text><text x="564" y="1894.8">IWB1968</text><text x="564" y="1908">IWB971</text><text x="564" y="1921.2">IWB7739</text><text x="564" y="1934.4">IWB36613</text><text x="564" y="1947.6">IWB24418</text><text x="564" y="1960.8">IWB54995</text><text x="564" y="1974">IWB64123</text><text x="564" y="1987.2">IWB72674</text><text x="564" y="2000.4">IWB2415</text></g>
<rect class="MGR" x="619" y="1815" width="13" height="9"/><text class="q MGR" transform="translate(637,1820) rotate(90)">MGR</text>
<rect class="MGT" x="650" y="1815" width="13" height="9"/><text class="q MGT" transform="translate(668,1820) rotate(90)">MGT</text>
<rect class="Z" x="619" y="1840" width="13" height="3"/><text class="q Z" transform="translate(637,1841) rotate(90)">Z</text>
<rect class="GI" x="619" y="1863" width="13" height="9"/><text class="q GI" transform="translate(637,1868) rotate(90)">GI</text>
<rect class="MGT" x="619" y="1924" width="13" height="3"/><rect class="MGT" x="624.9" y="1915" width="1.2" height="11"/><text class="q MGT" transform="translate(637,1925) rotate(90)">MGT</text>
<rect class="MGR" x="650" y="1924" width="13" height="3"/><rect class="MGR" x="655.9" y="1915" width="1.2" height="11"/><text class="q MGR" transform="translate(668,1925) rotate(90)">MGR</text>
</g>

<g id="chr5D" style="font-size:9px;letter-spacing:0.4px">
<text class="t" x="51" y="2080">5D</text>
<rect class="cap" x="37" y="2148" width="11" height="72" rx="5.5"/>
<rect class="nv" x="37" y="2153" width="11" height="62"/>
<path class="rd" d="M37 2154.2h11V2155.3h-11zM37 2156.5h11V2159.4h-11zM37 2176h11V2215h-11z"/>
<g class="n"><text x="22" y="2138">0.0</text><text x="22" y="2157">0.5</text><text x="22" y="2175">0.8</text><text x="22" y="2187">1.5</text><text x="22" y="2200">2.3</text><text x="22" y="2212">4.2</text><text x="22" y="2224">20.3</text><text x="22" y="2237">40.9</text></g>
<g><text x="61" y="2137">IWB2413</text><text x="61" y="2149">IWB34358</text><text x="61" y="2161">IWB40526</text><text x="61" y="2173">IWB46064</text><text x="61" y="2186">IWB7143</text><text x="61" y="2198">IWB7566</text><text x="61" y="2210">IWB60953</text><text x="61" y="2222">IWB44516</text><text x="61" y="2234">IWB6466</text></g>
<rect class="MGT" x="110" y="2183" width="11" height="2.5"/><rect class="MGT" x="114.9" y="2179" width="1.2" height="10"/><text class="q MGT" transform="translate(125,2185) rotate(90)">MGT</text>
<rect class="MGR" x="137" y="2183" width="11" height="2.5"/><rect class="MGR" x="141.9" y="2179" width="1.2" height="10"/><text class="q MGR" transform="translate(152,2185) rotate(90)">MGR</text>
<rect class="GI" x="163" y="2183" width="11" height="2.5"/><rect class="GI" x="167.9" y="2179" width="1.2" height="10"/><text class="q GI" transform="translate(178,2185) rotate(90)">GI</text>
<rect class="FCGR" x="190" y="2183" width="11" height="2.5"/><rect class="FCGR" x="194.9" y="2179" width="1.2" height="10"/><text class="q FCGR" transform="translate(204,2185) rotate(90)">FCGR</text>
</g>

<g id="chr6A" style="font-size:9px;letter-spacing:0.3px">
<text class="t" x="277" y="2081">6A</text>
<rect class="cap" x="266" y="2102" width="12" height="368" rx="6"/>
<rect class="nv" x="266" y="2107" width="12" height="358"/>
<path class="rd" d="M266 2111.8h12V2116.9h-12zM266 2125.8h12V2140.4h-12zM266 2149.5h12V2152h-12zM266 2152.6h12V2158.6h-12zM266 2159.5h12V2161.9h-12zM266 2164.6h12V2170.4h-12zM266 2187.8h12V2208.8h-12zM266 2221.4h12V2226.7h-12zM266 2235.6h12V2248.4h-12zM266 2293.4h12V2300.8h-12zM266 2320.7h12V2337.3h-12zM266 2345.8h12V2365.6h-12zM266 2399.6h12V2426.5h-12z"/>
<g class="n"><text x="252" y="2097">0.0</text><text x="252" y="2110.2">3.0</text><text x="252" y="2123.3">6.2</text><text x="252" y="2136.5">11.8</text><text x="252" y="2149.6">20.9</text><text x="252" y="2162.8">26.6</text><text x="252" y="2175.9">28.2</text><text x="252" y="2189.1">28.6</text><text x="252" y="2202.2">32.3</text><text x="252" y="2215.4">32.9</text><text x="252" y="2228.5">34.4</text><text x="252" y="2241.7">36.1</text><text x="252" y="2254.8">39.7</text><text x="252" y="2268">50.6</text><text x="252" y="2281.1">63.8</text><text x="252" y="2294.3">71.7</text><text x="252" y="2307.4">75.0</text><text x="252" y="2320.6">80.6</text><text x="252" y="2333.7">88.6</text><text x="252" y="2346.9">116.8</text><text x="252" y="2360">121.4</text><text x="252" y="2373.2">133.9</text><text x="252" y="2386.3">144.3</text><text x="252" y="2399.5">149.6</text><text x="252" y="2412.6">162.0</text><text x="252" y="2425.8">183.3</text><text x="252" y="2438.9">200.2</text><text x="252" y="2467">224.3</text></g>
<g><text x="292" y="2097">IWB2598</text><text x="292" y="2110.2">IWB10557</text><text x="292" y="2123.3">IWB43286</text><text x="292" y="2136.5">IWB59591</text><text x="292" y="2149.6">IWB7815</text><text x="292" y="2162.8">IWA705</text><text x="292" y="2175.9">IWB842</text><text x="292" y="2189.1">IWB48751</text><text x="292" y="2202.2">IWB47853</text><text x="292" y="2215.4">IWB40335</text><text x="292" y="2228.5">IWB45189</text><text x="292" y="2241.7">IWA3321</text><text x="292" y="2254.8">IWB71341</text><text x="292" y="2268">IWB21588</text><text x="292" y="2281.1">IWB27978</text><text x="292" y="2294.3">IWB61742</text><text x="292" y="2307.4">IWB60499</text><text x="292" y="2320.6">IWA7563</text><text x="292" y="2333.7">IWB38474</text><text x="292" y="2346.9">IWB61092</text><text x="292" y="2360">IWB12055</text><text x="292" y="2373.2">IWB72189</text><text x="292" y="2386.3">IWB28939</text><text x="292" y="2399.5">IWB31264</text><text x="292" y="2412.6">IWB10911</text><text x="292" y="2425.8">IWB33667</text><text x="292" y="2438.9">IWB59175</text><text x="292" y="2467">IWB26059</text></g>
<rect class="GI" x="340" y="2153" width="12" height="6"/><text class="q GI" transform="translate(357,2156) rotate(90)">GI</text>
<rect class="GR" x="367" y="2153" width="12" height="6"/><text class="q GR" transform="translate(383,2156) rotate(90)">GR</text>
</g>

<g id="chr6B" style="font-size:9px;letter-spacing:0.4px">
<text class="t" x="502" y="2080">6B</text>
<rect class="cap" x="494" y="2155" width="12" height="282" rx="6"/>
<rect class="nv" x="494" y="2160" width="12" height="272"/>
<path class="rd" d="M494 2193.2h12V2215.5h-12zM494 2228.5h12V2241.9h-12zM494 2268.1h12V2272.1h-12zM494 2275.8h12V2276.7h-12zM494 2284.4h12V2300.1h-12zM494 2305.3h12V2305.8h-12zM494 2311.2h12V2312.5h-12zM494 2312.8h12V2313h-12zM494 2320h12V2340.4h-12zM494 2356.8h12V2363.2h-12zM494 2384.9h12V2386.6h-12zM494 2393.9h12V2395h-12zM494 2395.5h12V2397.3h-12zM494 2397.9h12V2399.2h-12zM494 2400.8h12V2411h-12zM494 2415.9h12V2420h-12z"/>
<g class="n"><text x="478" y="2105">0.0</text><text x="478" y="2116.7">23.3</text><text x="478" y="2128.4">38.9</text><text x="478" y="2140.1">48.0</text><text x="478" y="2151.8">57.4</text><text x="478" y="2163.6">75.8</text><text x="478" y="2175.3">78.6</text><text x="478" y="2187">81.2</text><text x="478" y="2198.7">81.8</text><text x="478" y="2210.4">87.2</text><text x="478" y="2222.1">98.2</text><text x="478" y="2233.8">101.9</text><text x="478" y="2245.5">102.2</text><text x="478" y="2257.2">106.0</text><text x="478" y="2268.9">106.9</text><text x="478" y="2280.7">107.1</text><text x="478" y="2292.4">107.3</text><text x="478" y="2304.1">112.2</text><text x="478" y="2315.8">126.5</text><text x="478" y="2327.5">138.0</text><text x="478" y="2339.2">142.5</text><text x="478" y="2350.9">157.7</text><text x="478" y="2362.6">158.9</text><text x="478" y="2374.3">164.0</text><text x="478" y="2386">164.8</text><text x="478" y="2397.7">165.1</text><text x="478" y="2409.5">166.4</text><text x="478" y="2421.2">166.8</text><text x="478" y="2432.9">167.7</text><text x="478" y="2444.6">168.8</text><text x="478" y="2456.3">176.0</text><text x="478" y="2468">179.4</text><text x="478" y="2479.7">182.3</text><text x="478" y="2491.4">190.7</text></g>
<g><text x="521" y="2105">IWB23071</text><text x="521" y="2116.7">IWA2098</text><text x="521" y="2128.4">IWA7841</text><text x="521" y="2140.1">IWB7936</text><text x="521" y="2151.8">IWB7468</text><text x="521" y="2163.6">IWB25627</text><text x="521" y="2175.3">IWB45294</text><text x="521" y="2187">IWB9751</text><text x="521" y="2198.7">IWB23671</text><text x="521" y="2210.4">IWA5055</text><text x="521" y="2222.1">IWB6452</text><text x="521" y="2233.8">IWA8166</text><text x="521" y="2245.5">IWB11783</text><text x="521" y="2257.2">IWB71651</text><text x="521" y="2268.9">IWB17986</text><text x="521" y="2280.7">IWA3289</text><text x="521" y="2292.4">IWB57949</text><text x="521" y="2304.1">IWB40857</text><text x="521" y="2315.8">IWB24572</text><text x="521" y="2327.5">IWB26890</text><text x="521" y="2339.2">IWB41570</text><text x="521" y="2350.9">IWB22227</text><text x="521" y="2362.6">IWA4869</text><text x="521" y="2374.3">IWB28256</text><text x="521" y="2386">IWB72540</text><text x="521" y="2397.7">IWB71411</text><text x="521" y="2409.5">IWB34745</text><text x="521" y="2421.2">IWA4246</text><text x="521" y="2432.9">IWB57728</text><text x="521" y="2444.6">IWB51698</text><text x="521" y="2456.3">IWB11330</text><text x="521" y="2468">IWB24880</text><text x="521" y="2479.7">IWB57192</text><text x="521" y="2491.4">IWB44671</text></g>
<rect class="FCGR" x="572" y="2272" width="11" height="5"/><rect class="FCGR" x="576.9" y="2263" width="1.2" height="14"/><text class="q FCGR" transform="translate(587,2270) rotate(90)">FCGR</text>
<rect class="GI" x="572" y="2312" width="11" height="2"/><rect class="GI" x="576.9" y="2309" width="1.2" height="9"/><text class="q GI" transform="translate(587,2313) rotate(90)">GI</text>
<rect class="GI" x="572" y="2386" width="11" height="8"/><text class="q GI" transform="translate(587,2390) rotate(90)">GI</text>
<rect class="GR" x="599" y="2386" width="12" height="8"/><text class="q GR" transform="translate(615,2390) rotate(90)">GR</text>
<rect class="FCGR" x="628" y="2386" width="11" height="8"/><rect class="FCGR" x="632.9" y="2378" width="1.2" height="16"/><text class="q FCGR" transform="translate(643,2387) rotate(90)">FCGR</text>
<rect class="MGR" x="656" y="2398" width="11" height="2"/><rect class="MGR" x="660.9" y="2390" width="1.2" height="10"/><text class="q MGR" transform="translate(671,2398) rotate(90)">MGR</text>
<rect class="MGT" x="656" y="2419" width="11" height="13"/><text class="q MGT" transform="translate(671,2425) rotate(90)">MGT</text>
<rect class="Z" x="683" y="2419" width="12" height="13"/><text class="q Z" transform="translate(699,2425) rotate(90)">Z</text>
</g>

<g id="chr7A" style="font-size:9px;letter-spacing:0.5px">
<text class="t" x="69" y="2523">7A</text>
<rect class="cap" x="51" y="2541" width="11" height="424" rx="5.5"/>
<rect class="nv" x="51" y="2546" width="11" height="414"/>
<path class="rd" d="M51 2595.2h11V2625.6h-11zM51 2645.8h11V2672.1h-11zM51 2693.8h11V2704.5h-11zM51 2733h11V2757.4h-11zM51 2767.1h11V2782.9h-11zM51 2784h11V2786.2h-11zM51 2789.2h11V2789.5h-11zM51 2791h11V2798.9h-11zM51 2812.4h11V2829.3h-11zM51 2835.7h11V2848.1h-11zM51 2866.8h11V2876.6h-11zM51 2876.7h11V2877.7h-11zM51 2879.4h11V2892h-11zM51 2904.5h11V2916.4h-11zM51 2935.6h11V2960h-11z"/>
<g class="n"><text x="35" y="2548">0.0</text><text x="35" y="2597">36.1</text><text x="35" y="2628">58.4</text><text x="35" y="2648">73.2</text><text x="35" y="2674">92.5</text><text x="35" y="2697">108.4</text><text x="35" y="2707">116.3</text><text x="35" y="2719">137.2</text><text x="35" y="2731">155.1</text><text x="35" y="2742">162.2</text><text x="35" y="2753">173.8</text><text x="35" y="2764">174.6</text><text x="35" y="2776">176.2</text><text x="35" y="2787">178.4</text><text x="35" y="2798">178.6</text><text x="35" y="2809">179.7</text><text x="35" y="2821">185.5</text><text x="35" y="2832">195.4</text><text x="35" y="2843">207.8</text><text x="35" y="2854">212.5</text><text x="35" y="2866">221.6</text><text x="35" y="2877">235.3</text><text x="35" y="2888">242.5</text><text x="35" y="2899">242.6</text><text x="35" y="2911">243.3</text><text x="35" y="2922">244.6</text><text x="35" y="2933">253.8</text><text x="35" y="2944">263.0</text><text x="35" y="2956">271.7</text><text x="35" y="2967">285.8</text><text x="35" y="2978">303.7</text></g>
<g><text x="77" y="2548">IWB48611</text><text x="77" y="2597">IWB340</text><text x="77" y="2628">IWB24698</text><text x="77" y="2648">IWB2616</text><text x="77" y="2674">IWB30960</text><text x="77" y="2697">IWB7400</text><text x="77" y="2707">IWB55491</text><text x="77" y="2719">IWB35407</text><text x="77" y="2731">IWA4180</text><text x="77" y="2742">IWB8933</text><text x="77" y="2753">IWA2301</text><text x="77" y="2764">IWB34876</text><text x="77" y="2776">IWB7519</text><text x="77" y="2787">IWB20876</text><text x="77" y="2798">IWB29223</text><text x="77" y="2809">IWB34228</text><text x="77" y="2821">IWA7432</text><text x="77" y="2832">IWB7955</text><text x="77" y="2843">IWA1724</text><text x="77" y="2854">IWB74845</text><text x="77" y="2866">IWB27946</text><text x="77" y="2877">IWB53308</text><text x="77" y="2888">IWA4992</text><text x="77" y="2899">IWA4993</text><text x="77" y="2911">IWB12039</text><text x="77" y="2922">IWB28064</text><text x="77" y="2933">IWB71178</text><text x="77" y="2944">IWB8849</text><text x="77" y="2956">IWB49994</text><text x="77" y="2967">IWB47208</text><text x="77" y="2978">IWB747</text></g>
<rect class="MGT" x="128" y="2786" width="11" height="5"/><text class="q MGT" transform="translate(144,2788) rotate(90)">MGT</text>
<rect class="MGT" x="128" y="2876" width="11" height="2.5"/><text class="q MGT" transform="translate(144,2877) rotate(90)">MGT</text>
<rect class="MGR" x="157" y="2876" width="11" height="2.5"/><text class="q MGR" transform="translate(173,2877) rotate(90)">MGR</text>
<rect class="Z" x="185" y="2876" width="12" height="2.5"/><text class="q Z" transform="translate(201,2877) rotate(90)">Z</text>
</g>

<g id="chr7B" style="font-size:9.5px;letter-spacing:0.5px">
<text class="t" x="300" y="2523">7B</text>
<rect class="cap" x="283" y="2545" width="11" height="378" rx="5.5"/>
<rect class="nv" x="283" y="2550" width="11" height="368"/>
<path class="rd" d="M283 2570.8h11V2586.2h-11zM283 2610.3h11V2621.9h-11zM283 2646.8h11V2657.3h-11zM283 2668.7h11V2689.2h-11zM283 2708.7h11V2722h-11zM283 2746.9h11V2764.9h-11zM283 2781.7h11V2798.1h-11zM283 2799.3h11V2812.2h-11zM283 2816.1h11V2819.1h-11zM283 2822h11V2824.2h-11zM283 2833h11V2835h-11zM283 2853.8h11V2873.3h-11zM283 2887.9h11V2918h-11z"/>
<g class="n"><text x="267" y="2552">0.0</text><text x="267" y="2572">12.7</text><text x="267" y="2588">22.1</text><text x="267" y="2612">36.8</text><text x="267" y="2626">43.9</text><text x="267" y="2644">59.1</text><text x="267" y="2657">65.5</text><text x="267" y="2669">72.5</text><text x="267" y="2683">85.0</text><text x="267" y="2696">96.9</text><text x="267" y="2710">105.0</text><text x="267" y="2725">120.2</text><text x="267" y="2738">131.2</text><text x="267" y="2752">141.5</text><text x="267" y="2765">151.5</text><text x="267" y="2778">152.2</text><text x="267" y="2792">160.1</text><text x="267" y="2806">162.5</text><text x="267" y="2819">164.3</text><text x="267" y="2833">166.1</text><text x="267" y="2847">167.4</text><text x="267" y="2860">172.8</text><text x="267" y="2874">174.0</text><text x="267" y="2887">185.5</text><text x="267" y="2901">197.4</text><text x="267" y="2913">206.3</text><text x="267" y="2927">224.7</text></g>
<g><text x="310" y="2551">IWB37917</text><text x="310" y="2571">IWA1525</text><text x="310" y="2586">IWB3369</text><text x="310" y="2609">IWB12645</text><text x="310" y="2623">IWB60479</text><text x="310" y="2642">IWB59968</text><text x="310" y="2655">IWB72398</text><text x="310" y="2668">IWB72924</text><text x="310" y="2682">IWB59887</text><text x="310" y="2696">IWB330</text><text x="310" y="2709">IWB10895</text><text x="310" y="2723">IWB7218</text><text x="310" y="2737">IWB68458</text><text x="310" y="2750">IWB72479</text><text x="310" y="2763">IWB57979</text><text x="310" y="2777">IWB74019</text><text x="310" y="2790">IWB26137</text><text x="310" y="2804">IWA2770</text><text x="310" y="2817">IWB2239</text><text x="310" y="2831">IWB6699</text><text x="310" y="2844">IWB27076</text><text x="310" y="2858">IWB24509</text><text x="310" y="2872">IWB74817</text><text x="310" y="2885">IWB58840</text><text x="310" y="2898">IWB21519</text><text x="310" y="2912">IWB65365</text><text x="310" y="2926">IWB34195</text></g>
<rect class="GR" x="363" y="2818" width="12" height="5"/><rect class="GR" x="368.4" y="2813" width="1.2" height="10"/><text class="q GR" transform="translate(380,2822) rotate(90)">GR</text>
<rect class="FCGR" x="393" y="2818" width="12" height="5"/><rect class="FCGR" x="398.4" y="2808" width="1.2" height="15"/><text class="q FCGR" transform="translate(410,2822) rotate(90)">FCGR</text>
</g>

<g id="legend">
<rect class="MGT" x="426" y="2654" width="47" height="10"/><text class="lg" x="490" y="2659">MGT</text>
<rect class="MGR" x="426" y="2671" width="47" height="10"/><text class="lg" x="490" y="2676">MGR</text>
<rect class="GI" x="426" y="2687" width="47" height="10"/><text class="lg" x="490" y="2692">GI</text>
<rect class="GR" x="426" y="2704" width="47" height="10"/><text class="lg" x="490" y="2709">GR</text>
<rect class="Z" x="426" y="2721" width="47" height="10"/><text class="lg" x="490" y="2726">Z</text>
<rect class="FCGR" x="426" y="2737" width="47" height="10"/><text class="lg" x="490" y="2742">FCGR</text>
</g>
</svg>
